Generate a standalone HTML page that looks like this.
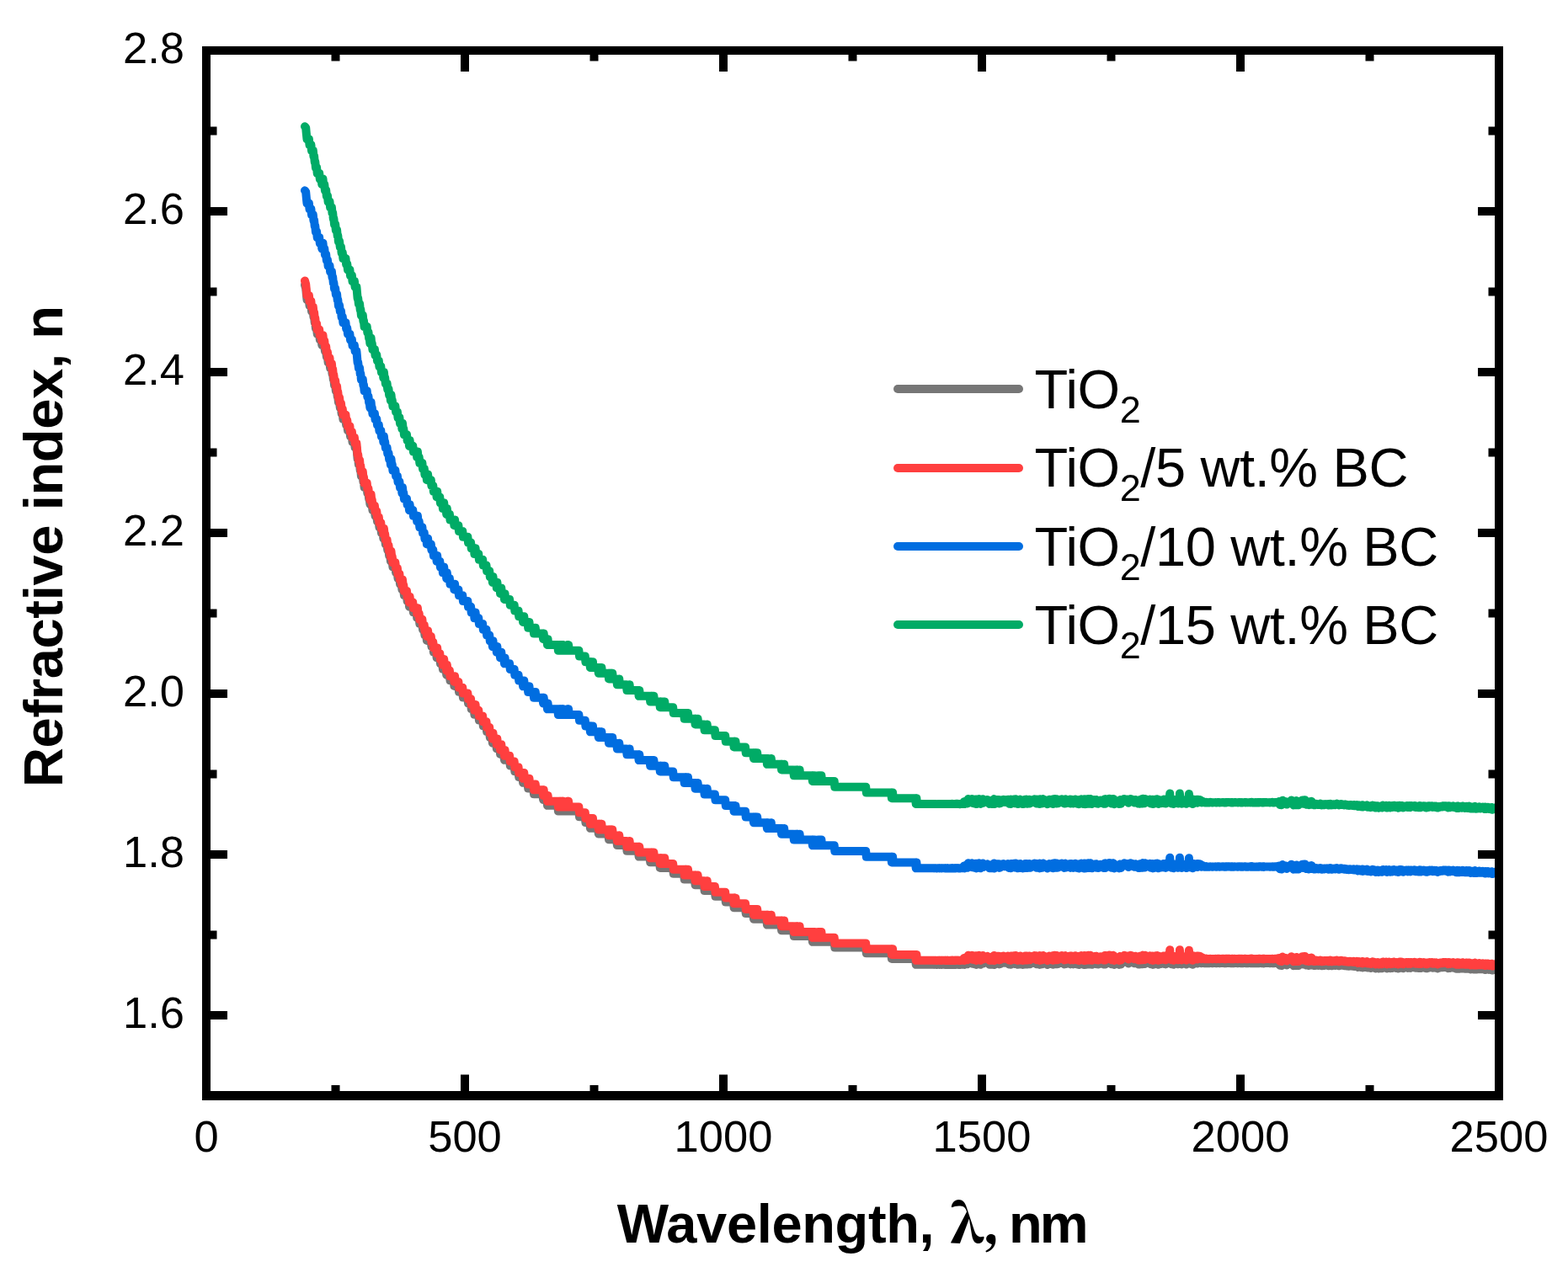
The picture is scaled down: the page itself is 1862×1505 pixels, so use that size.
<!DOCTYPE html>
<html><head><meta charset="utf-8"><style>
html,body{margin:0;padding:0;background:#fff;}
svg{display:block;}
svg text{fill:#000;}
</style></head><body>
<svg width="1862" height="1505" viewBox="0 0 1862 1505" style="font-family:'Liberation Sans',Arial,sans-serif">
<rect width="1862" height="1505" fill="#fff"/>
<g fill="none" stroke-width="10" stroke-linejoin="round" stroke-linecap="round">
<polyline stroke="#767676" points="362.0,338.50 363.2,342.60 363.8,349.30 364.5,356.00 366.9,356.00 367.5,362.80 369.4,362.80 370.0,369.60 371.8,369.60 372.4,376.30 373.1,376.30 373.7,383.00 374.3,383.00 374.9,389.80 376.1,389.80 376.7,396.60 379.2,396.60 379.8,403.30 381.6,403.30 382.3,410.00 382.9,403.30 383.5,403.30 384.1,410.00 385.3,410.00 385.9,416.80 387.2,416.80 387.8,423.60 389.0,423.60 389.6,430.30 391.5,430.30 392.1,437.00 393.9,437.00 394.5,443.80 395.2,443.80 395.8,450.60 396.4,450.60 397.0,457.30 398.2,457.30 398.8,464.00 400.1,464.00 400.7,470.80 401.3,470.80 401.9,477.60 403.1,477.60 403.8,484.30 405.0,484.30 405.6,491.00 406.8,491.00 407.4,497.80 410.5,497.80 411.1,504.60 412.3,504.60 413.0,511.30 415.4,511.30 416.0,518.00 417.9,518.00 418.5,524.80 420.9,524.80 421.6,531.60 423.4,531.60 424.0,538.30 424.6,545.00 425.2,545.00 425.9,551.80 427.1,551.80 427.7,558.60 428.3,558.60 428.9,565.30 430.8,565.30 431.4,572.00 432.0,572.00 432.6,578.80 435.7,578.80 436.3,585.60 437.5,585.60 438.1,592.30 438.7,592.30 439.4,599.00 440.0,592.30 440.6,592.30 441.2,599.00 441.8,599.00 442.4,605.80 444.9,605.80 445.5,612.60 447.3,612.60 448.0,619.30 449.8,619.30 450.4,626.00 452.3,626.00 452.9,632.80 454.7,632.80 455.3,639.60 455.9,632.80 456.6,639.60 457.2,639.60 457.8,646.30 459.6,646.30 460.2,653.00 461.5,653.00 462.1,659.80 463.3,659.80 463.9,666.60 464.5,659.80 465.2,666.60 465.8,666.60 466.4,673.30 469.4,673.30 470.1,680.00 471.9,680.00 472.5,686.80 474.4,686.80 475.0,693.60 476.8,693.60 477.4,700.30 478.0,693.60 478.7,700.30 479.3,700.30 479.9,707.00 483.0,707.00 483.6,713.80 485.4,713.80 486.0,720.60 486.6,713.80 487.3,720.60 490.3,720.60 490.9,727.30 494.6,727.30 495.2,734.00 495.9,727.30 496.5,734.00 497.7,734.00 498.3,740.80 501.4,740.80 502.0,747.60 503.8,747.60 504.4,754.30 506.3,754.30 506.9,761.00 507.5,754.30 508.1,754.30 508.7,761.00 511.8,761.00 512.4,767.80 514.3,767.80 514.9,774.60 518.0,774.60 518.6,781.30 519.2,774.60 519.8,781.30 522.3,781.30 522.9,788.00 525.3,788.00 525.9,794.80 526.6,794.80 527.2,788.00 527.8,794.80 529.6,794.80 530.2,801.60 530.8,794.80 531.5,801.60 533.9,801.60 534.5,808.30 538.8,808.30 539.4,815.00 540.1,808.30 540.7,815.00 544.4,815.00 545.0,821.80 549.3,821.80 549.9,828.60 555.4,828.60 556.0,835.30 559.1,835.30 559.7,842.00 562.8,842.00 563.4,848.80 564.0,848.80 564.6,842.00 565.2,848.80 568.3,848.80 568.9,855.60 573.2,855.60 573.8,862.30 577.5,862.30 578.1,869.00 581.2,869.00 581.8,875.80 584.3,875.80 584.9,882.60 585.5,875.80 586.1,882.60 589.2,882.60 589.8,889.30 590.4,882.60 591.0,889.30 593.5,889.30 594.1,896.00 594.7,889.30 595.3,889.30 595.9,896.00 598.4,896.00 599.0,902.80 599.6,896.00 600.2,902.80 605.1,902.80 605.8,909.60 610.7,909.60 611.3,916.30 615.6,916.30 616.2,923.00 620.5,923.00 621.1,929.80 621.7,923.00 622.3,923.00 622.9,929.80 626.6,929.80 627.2,936.60 627.9,936.60 628.5,929.80 629.1,936.60 633.4,936.60 634.0,943.30 634.6,943.30 635.2,936.60 635.8,936.60 636.5,943.30 644.4,943.30 645.1,950.00 645.7,943.30 646.3,950.00 649.4,950.00 650.0,956.80 650.6,950.00 651.2,956.80 662.2,956.80 662.9,963.60 663.5,963.60 664.1,956.80 664.7,956.80 665.3,963.60 665.9,956.80 666.5,956.80 667.2,963.60 667.8,956.80 668.4,963.60 669.0,956.80 669.6,963.60 673.3,963.60 673.9,956.80 674.5,963.60 675.1,956.80 675.8,963.60 687.4,963.60 688.0,970.30 694.8,970.30 695.4,977.00 700.3,977.00 700.9,983.80 701.5,977.00 702.2,983.80 702.8,977.00 704.0,977.00 704.6,983.80 710.1,983.80 710.8,990.60 711.4,983.80 712.0,990.60 712.6,983.80 713.2,983.80 713.8,990.60 714.4,983.80 715.0,990.60 722.4,990.60 723.0,997.30 723.6,990.60 724.3,997.30 724.9,990.60 725.5,997.30 726.1,990.60 726.7,997.30 727.3,990.60 727.9,997.30 732.2,997.30 732.9,1004.00 734.7,1004.00 735.3,997.30 735.9,1004.00 743.9,1004.00 744.5,1010.80 747.0,1010.80 747.6,1004.00 748.2,1010.80 758.0,1010.80 758.6,1017.60 759.3,1010.80 759.9,1017.60 771.5,1017.60 772.2,1024.30 772.8,1024.30 773.4,1017.60 774.0,1024.30 774.6,1017.60 775.2,1024.30 775.8,1024.30 776.4,1017.60 777.1,1024.30 783.2,1024.30 783.8,1031.00 784.4,1024.30 785.0,1031.00 785.7,1024.30 787.5,1024.30 788.1,1031.00 788.7,1031.00 789.3,1024.30 790.0,1031.00 799.2,1031.00 799.8,1037.80 812.1,1037.80 812.7,1044.60 813.3,1044.60 813.9,1037.80 814.5,1044.60 815.1,1037.80 815.7,1044.60 816.4,1044.60 817.0,1037.80 817.6,1044.60 825.0,1044.60 825.6,1051.30 826.2,1044.60 826.8,1051.30 828.0,1051.30 828.6,1044.60 829.3,1051.30 836.0,1051.30 836.6,1058.00 839.1,1058.00 839.7,1051.30 840.3,1058.00 848.9,1058.00 849.5,1064.80 861.2,1064.80 861.8,1071.60 871.0,1071.60 871.6,1078.30 872.2,1071.60 872.8,1078.30 873.5,1071.60 874.1,1078.30 885.1,1078.30 885.7,1085.00 894.3,1085.00 895.0,1091.80 895.6,1085.00 896.8,1085.00 897.4,1091.80 898.0,1085.00 899.2,1085.00 899.9,1091.80 910.3,1091.80 910.9,1098.60 911.5,1091.80 912.1,1091.80 912.8,1098.60 915.2,1098.60 915.8,1091.80 916.4,1098.60 927.5,1098.60 928.1,1105.30 928.7,1098.60 929.3,1105.30 930.6,1105.30 931.2,1098.60 931.8,1105.30 942.2,1105.30 942.8,1112.00 944.1,1112.00 944.7,1105.30 945.9,1105.30 946.5,1112.00 947.1,1105.30 947.8,1112.00 949.0,1112.00 949.6,1105.30 950.2,1112.00 964.3,1112.00 964.9,1118.80 965.6,1112.00 967.4,1112.00 968.0,1118.80 971.1,1118.80 971.7,1112.00 972.9,1112.00 973.5,1118.80 974.2,1118.80 974.8,1112.00 975.4,1112.00 976.0,1118.80 990.7,1118.80 991.3,1125.60 1028.2,1125.60 1028.8,1132.30 1058.3,1132.30 1058.9,1139.00 1059.5,1132.30 1060.1,1132.30 1060.7,1139.00 1087.1,1139.00 1087.7,1145.80 1088.4,1139.00 1089.0,1145.80 1108.6,1145.80 1109.2,1145.90 1109.9,1145.80 1111.1,1145.80 1111.7,1145.90 1112.3,1145.90 1112.9,1145.70 1113.5,1145.80 1114.1,1145.70 1114.8,1145.80 1115.4,1145.90 1116.0,1145.90 1116.6,1145.80 1117.2,1145.80 1117.8,1145.90 1118.4,1145.90 1119.1,1145.80 1121.5,1145.80 1122.1,1145.70 1122.7,1145.90 1123.4,1145.80 1124.0,1145.90 1124.6,1145.80 1125.2,1145.90 1125.8,1145.70 1126.4,1145.90 1127.0,1145.90 1127.7,1145.70 1128.3,1145.80 1128.9,1145.70 1129.5,1145.90 1130.1,1145.80 1130.7,1145.60 1131.3,1145.90 1132.0,1145.90 1132.6,1145.70 1133.2,1145.90 1133.8,1145.70 1134.4,1145.90 1135.0,1145.70 1135.6,1145.60 1136.3,1145.70 1136.9,1145.80 1137.5,1145.60 1138.1,1145.90 1138.7,1145.80 1139.3,1145.80 1139.9,1146.00 1140.6,1145.90 1141.2,1145.70 1141.8,1145.60 1142.4,1145.70 1143.0,1145.20 1143.6,1145.00 1144.2,1145.60 1144.8,1143.10 1145.5,1145.90 1146.1,1143.00 1146.7,1142.60 1147.3,1144.20 1147.9,1143.70 1148.5,1143.50 1149.1,1145.20 1149.8,1139.80 1150.4,1140.60 1151.0,1140.80 1151.6,1143.10 1152.2,1141.90 1152.8,1143.70 1153.4,1142.30 1154.1,1139.80 1154.7,1144.70 1155.3,1142.80 1155.9,1142.10 1156.5,1141.40 1157.1,1145.20 1157.7,1143.60 1158.4,1140.20 1159.0,1142.10 1159.6,1145.90 1160.2,1141.20 1160.8,1140.40 1161.4,1140.00 1162.0,1140.00 1162.7,1139.80 1163.3,1142.60 1163.9,1145.40 1164.5,1145.70 1165.1,1145.40 1165.7,1142.00 1166.3,1144.00 1167.0,1140.00 1167.6,1144.50 1168.2,1141.40 1168.8,1143.80 1169.4,1141.40 1170.0,1142.70 1170.6,1142.50 1171.3,1143.50 1171.9,1141.70 1172.5,1140.80 1173.1,1143.20 1173.7,1144.50 1174.3,1142.10 1174.9,1145.70 1175.5,1142.40 1176.2,1142.10 1176.8,1142.10 1177.4,1145.80 1178.0,1141.50 1178.6,1143.60 1179.2,1143.00 1179.8,1145.90 1180.5,1139.90 1181.1,1145.90 1181.7,1141.80 1182.3,1144.70 1182.9,1140.90 1183.5,1144.20 1184.1,1141.70 1184.8,1140.80 1185.4,1140.70 1186.0,1140.70 1186.6,1145.40 1187.2,1142.50 1187.8,1141.60 1188.4,1144.80 1189.1,1143.00 1189.7,1143.90 1190.3,1141.40 1190.9,1140.80 1191.5,1140.50 1192.1,1141.80 1192.7,1142.20 1193.4,1143.70 1194.0,1142.10 1194.6,1142.10 1195.2,1140.90 1195.8,1142.10 1196.4,1143.10 1197.0,1140.50 1197.7,1144.40 1198.3,1145.50 1198.9,1143.20 1199.5,1141.60 1200.1,1145.80 1200.7,1140.40 1201.3,1140.80 1202.0,1144.50 1202.6,1144.80 1203.2,1142.00 1203.8,1140.20 1204.4,1143.70 1205.0,1141.80 1205.6,1145.10 1206.2,1140.00 1206.9,1143.00 1207.5,1140.70 1208.1,1145.70 1208.7,1145.80 1209.3,1143.40 1209.9,1144.00 1210.5,1145.20 1211.2,1145.40 1211.8,1140.40 1212.4,1141.70 1213.0,1144.70 1213.6,1141.40 1214.2,1142.30 1214.8,1145.90 1215.5,1142.60 1216.1,1143.30 1216.7,1141.00 1217.3,1140.50 1217.9,1145.40 1218.5,1144.50 1219.1,1140.40 1219.8,1145.60 1220.4,1145.30 1221.0,1141.70 1221.6,1145.20 1222.2,1140.50 1222.8,1141.20 1223.4,1145.20 1224.1,1143.00 1224.7,1142.20 1225.3,1141.50 1225.9,1141.00 1226.5,1140.70 1227.1,1142.50 1227.7,1142.80 1228.4,1140.10 1229.0,1144.30 1229.6,1140.20 1230.2,1140.50 1230.8,1145.30 1231.4,1142.00 1232.0,1140.40 1232.7,1142.10 1233.3,1140.70 1233.9,1140.40 1234.5,1145.90 1235.1,1140.10 1235.7,1144.40 1236.3,1142.50 1236.9,1141.10 1237.6,1145.20 1238.2,1142.90 1238.8,1139.90 1239.4,1142.00 1240.0,1143.50 1240.6,1142.30 1241.2,1141.50 1241.9,1141.70 1242.5,1141.50 1243.1,1142.60 1243.7,1146.00 1244.3,1145.50 1244.9,1143.10 1245.5,1145.30 1246.2,1140.60 1246.8,1143.60 1247.4,1144.80 1248.0,1141.30 1248.6,1143.20 1249.2,1142.90 1249.8,1140.30 1250.5,1145.80 1251.1,1142.00 1251.7,1143.20 1252.3,1139.70 1252.9,1142.90 1253.5,1142.40 1254.1,1145.20 1254.8,1140.00 1255.4,1145.20 1256.0,1140.80 1256.6,1145.00 1257.2,1144.50 1257.8,1143.50 1258.4,1141.90 1259.1,1142.50 1259.7,1143.90 1260.3,1142.00 1260.9,1140.00 1261.5,1144.10 1262.1,1144.10 1262.7,1141.40 1263.4,1141.00 1264.0,1145.40 1264.6,1141.80 1265.2,1140.10 1265.8,1145.10 1266.4,1141.10 1267.0,1142.10 1267.6,1143.20 1268.3,1142.60 1268.9,1141.00 1269.5,1141.10 1270.1,1142.80 1270.7,1140.40 1271.3,1145.40 1271.9,1141.30 1272.6,1140.60 1273.2,1140.80 1273.8,1140.90 1274.4,1145.40 1275.0,1142.40 1275.6,1144.40 1276.2,1144.90 1276.9,1140.20 1277.5,1143.60 1278.1,1144.90 1278.7,1141.10 1279.3,1145.60 1279.9,1143.00 1280.5,1142.90 1281.2,1146.00 1281.8,1140.80 1282.4,1145.60 1283.0,1141.20 1283.6,1143.20 1284.2,1140.10 1284.8,1141.90 1285.5,1141.20 1286.1,1144.60 1286.7,1145.90 1287.3,1140.60 1287.9,1140.00 1288.5,1143.80 1289.1,1145.90 1289.8,1145.80 1290.4,1145.10 1291.0,1144.30 1291.6,1143.30 1292.2,1139.70 1292.8,1145.60 1293.4,1143.20 1294.1,1142.60 1294.7,1139.70 1295.3,1140.70 1295.9,1141.80 1296.5,1145.80 1297.1,1143.70 1297.7,1144.10 1298.3,1142.00 1299.0,1144.30 1299.6,1140.90 1300.2,1141.40 1300.8,1143.00 1301.4,1140.70 1302.0,1145.20 1302.6,1141.20 1303.3,1142.70 1303.9,1145.60 1304.5,1142.00 1305.1,1143.30 1305.7,1144.00 1306.3,1142.40 1306.9,1141.20 1307.6,1142.90 1308.2,1144.70 1308.8,1142.20 1309.4,1144.00 1310.0,1141.20 1310.6,1142.10 1311.2,1145.60 1311.9,1140.00 1312.5,1145.50 1313.1,1139.90 1313.7,1144.80 1314.3,1142.00 1314.9,1144.10 1315.5,1141.10 1316.2,1140.70 1316.8,1140.20 1317.4,1139.60 1318.0,1142.00 1318.6,1139.90 1319.2,1141.40 1319.8,1145.20 1320.5,1144.10 1321.1,1142.30 1321.7,1139.70 1322.3,1139.90 1322.9,1146.00 1323.5,1142.40 1324.1,1143.40 1324.8,1144.30 1325.4,1143.50 1326.0,1144.40 1326.6,1143.20 1327.2,1142.80 1327.8,1142.50 1328.4,1145.30 1329.0,1145.90 1329.7,1142.00 1330.3,1140.90 1330.9,1145.50 1331.5,1141.40 1332.1,1144.20 1332.7,1141.10 1333.3,1143.40 1334.0,1141.60 1334.6,1139.90 1335.2,1139.70 1335.8,1141.50 1336.4,1142.60 1337.0,1142.40 1337.6,1142.40 1338.3,1142.80 1338.9,1140.40 1339.5,1143.80 1340.1,1144.50 1340.7,1142.40 1341.3,1142.60 1341.9,1140.40 1342.6,1139.80 1343.2,1141.20 1343.8,1142.40 1344.4,1140.30 1345.0,1141.90 1345.6,1142.60 1346.2,1143.00 1346.9,1144.30 1347.5,1143.00 1348.1,1140.70 1348.7,1141.60 1349.3,1142.40 1349.9,1143.10 1350.5,1142.30 1351.2,1142.10 1351.8,1145.40 1352.4,1143.90 1353.0,1145.50 1353.6,1140.70 1354.2,1143.90 1354.8,1142.70 1355.5,1141.60 1356.1,1139.90 1356.7,1145.30 1357.3,1139.60 1357.9,1144.90 1358.5,1142.00 1359.1,1145.10 1359.7,1139.80 1360.4,1139.90 1361.0,1142.20 1361.6,1143.50 1362.2,1143.80 1362.8,1141.40 1363.4,1143.70 1364.0,1142.20 1364.7,1140.70 1365.3,1140.40 1365.9,1141.20 1366.5,1145.30 1367.1,1141.40 1367.7,1143.10 1368.3,1140.50 1369.0,1145.90 1369.6,1145.30 1370.2,1140.70 1370.8,1141.00 1371.4,1145.20 1372.0,1141.50 1372.6,1140.20 1373.3,1143.40 1373.9,1140.50 1374.5,1140.10 1375.1,1143.70 1375.7,1145.80 1376.3,1140.80 1376.9,1145.10 1377.6,1143.60 1378.2,1145.10 1378.8,1141.70 1379.4,1141.80 1380.0,1143.30 1380.6,1141.00 1381.2,1141.50 1381.9,1140.40 1382.5,1145.00 1383.1,1142.60 1383.7,1140.50 1384.3,1145.40 1384.9,1141.00 1385.5,1139.90 1386.2,1142.70 1386.8,1143.80 1387.4,1143.10 1388.0,1143.90 1388.6,1142.30 1389.2,1133.30 1389.8,1143.50 1390.4,1140.90 1391.1,1145.30 1391.7,1140.10 1392.3,1141.90 1392.9,1143.50 1393.5,1145.80 1394.1,1141.90 1394.7,1140.90 1395.4,1143.80 1396.0,1144.80 1396.6,1141.60 1397.2,1142.90 1397.8,1144.20 1398.4,1143.20 1399.0,1145.30 1399.7,1140.80 1400.3,1145.00 1400.9,1133.30 1401.5,1141.70 1402.1,1145.10 1402.7,1143.00 1403.3,1145.50 1404.0,1143.60 1404.6,1144.70 1405.2,1141.10 1405.8,1142.70 1406.4,1142.70 1407.0,1141.50 1407.6,1142.60 1408.3,1143.80 1408.9,1145.60 1409.5,1143.00 1410.1,1140.20 1410.7,1142.10 1411.3,1141.60 1411.9,1133.80 1412.6,1142.40 1413.2,1141.60 1413.8,1144.60 1414.4,1142.40 1415.0,1145.20 1415.6,1141.50 1416.2,1145.80 1416.9,1140.50 1417.5,1143.50 1418.1,1140.60 1418.7,1141.20 1419.3,1144.40 1419.9,1143.00 1420.5,1142.00 1421.1,1140.50 1421.8,1144.50 1422.4,1143.40 1423.0,1140.60 1423.6,1142.00 1424.2,1142.60 1424.8,1140.70 1425.4,1141.20 1426.1,1143.40 1426.7,1144.20 1427.3,1142.90 1427.9,1142.50 1428.5,1143.60 1429.1,1144.10 1429.7,1144.10 1430.4,1144.20 1431.0,1144.20 1431.6,1144.10 1432.2,1143.70 1432.8,1144.10 1433.4,1144.30 1434.0,1144.00 1434.7,1143.90 1435.3,1144.20 1435.9,1144.20 1436.5,1144.00 1437.1,1143.70 1437.7,1144.00 1438.3,1143.90 1439.0,1144.10 1439.6,1144.30 1440.2,1144.00 1440.8,1144.00 1441.4,1144.10 1442.0,1144.00 1442.6,1144.10 1443.3,1143.80 1443.9,1144.00 1444.5,1144.20 1445.1,1144.00 1445.7,1143.90 1446.3,1143.80 1446.9,1143.80 1447.6,1143.70 1448.2,1144.20 1448.8,1144.00 1449.4,1144.10 1450.6,1144.10 1451.2,1143.80 1451.8,1144.00 1452.5,1143.90 1453.1,1143.70 1453.7,1144.00 1454.3,1144.30 1454.9,1144.30 1455.5,1143.80 1456.1,1144.20 1456.8,1143.70 1457.4,1143.80 1458.0,1143.80 1458.6,1143.90 1459.2,1143.70 1459.8,1143.80 1460.4,1143.70 1461.1,1144.10 1461.7,1144.20 1462.3,1144.00 1462.9,1143.70 1463.5,1143.80 1464.1,1143.80 1464.7,1144.30 1465.4,1144.00 1466.0,1143.80 1466.6,1144.00 1467.2,1143.90 1467.8,1144.10 1468.4,1144.00 1469.0,1144.10 1469.7,1144.20 1470.3,1144.00 1470.9,1143.80 1471.5,1144.00 1472.1,1144.00 1472.7,1143.80 1473.3,1144.20 1474.0,1144.10 1474.6,1143.80 1475.2,1144.20 1475.8,1144.20 1476.4,1144.10 1477.0,1144.00 1477.6,1144.00 1478.3,1143.80 1478.9,1143.70 1479.5,1144.20 1480.1,1143.90 1480.7,1144.00 1481.3,1144.10 1481.9,1144.20 1482.5,1144.10 1483.2,1144.00 1483.8,1144.00 1484.4,1143.80 1485.0,1144.20 1485.6,1144.10 1486.2,1143.70 1486.8,1144.20 1487.5,1144.30 1488.1,1144.30 1488.7,1144.10 1489.3,1144.10 1489.9,1144.30 1490.5,1144.20 1491.1,1143.90 1491.8,1144.20 1492.4,1144.30 1493.0,1144.00 1493.6,1143.90 1494.2,1144.00 1494.8,1143.80 1495.4,1144.20 1496.1,1143.80 1496.7,1144.10 1497.3,1143.90 1497.9,1143.90 1498.5,1144.20 1499.1,1144.30 1499.7,1143.90 1500.4,1144.30 1501.0,1143.80 1501.6,1143.90 1502.2,1143.90 1502.8,1144.10 1503.4,1143.90 1504.0,1143.90 1504.7,1144.10 1505.3,1144.00 1505.9,1144.10 1506.5,1144.00 1507.1,1143.90 1507.7,1144.00 1508.3,1144.20 1509.0,1144.10 1509.6,1143.90 1510.2,1144.00 1510.8,1143.70 1511.4,1144.20 1512.0,1144.30 1512.6,1144.20 1513.2,1144.20 1513.9,1143.80 1514.5,1143.90 1515.1,1143.80 1515.7,1143.70 1516.3,1143.90 1516.9,1144.00 1517.5,1144.50 1518.2,1145.10 1518.8,1142.90 1519.4,1146.00 1520.0,1146.70 1520.6,1144.70 1521.2,1145.90 1521.8,1147.00 1522.5,1144.10 1523.1,1141.50 1523.7,1142.00 1524.3,1144.60 1524.9,1145.20 1525.5,1143.30 1526.1,1142.70 1526.8,1145.80 1527.4,1145.40 1528.0,1146.40 1528.6,1144.90 1529.2,1145.10 1529.8,1143.90 1530.4,1143.30 1531.1,1144.80 1531.7,1144.70 1532.3,1142.20 1532.9,1143.10 1533.5,1141.30 1534.1,1145.10 1534.7,1141.70 1535.4,1144.00 1536.0,1147.20 1536.6,1146.70 1537.2,1145.60 1537.8,1146.10 1538.4,1145.30 1539.0,1147.10 1539.7,1141.90 1540.3,1144.90 1540.9,1143.30 1541.5,1143.10 1542.1,1147.00 1542.7,1146.10 1543.3,1142.70 1543.9,1144.40 1544.6,1145.30 1545.2,1144.50 1545.8,1143.20 1546.4,1141.20 1547.0,1145.40 1547.6,1145.50 1548.2,1143.20 1548.9,1141.10 1549.5,1141.10 1550.1,1145.40 1550.7,1145.50 1551.3,1146.60 1551.9,1143.20 1552.5,1144.60 1553.2,1145.10 1553.8,1145.60 1554.4,1147.00 1555.0,1143.10 1555.6,1144.80 1556.2,1146.40 1556.8,1146.50 1557.5,1142.60 1558.1,1143.60 1558.7,1144.80 1559.3,1145.10 1559.9,1145.80 1560.5,1147.10 1561.1,1146.60 1561.8,1146.90 1562.4,1146.50 1563.0,1145.60 1563.6,1146.30 1564.2,1145.90 1564.8,1146.00 1565.4,1146.90 1566.1,1146.30 1566.7,1146.60 1567.3,1145.90 1567.9,1145.50 1568.5,1145.90 1569.1,1145.70 1569.7,1147.20 1570.4,1147.10 1571.0,1146.40 1571.6,1147.00 1572.2,1146.00 1572.8,1147.00 1573.4,1146.00 1574.0,1146.50 1574.6,1146.10 1575.3,1146.00 1575.9,1146.60 1576.5,1146.00 1577.1,1146.70 1577.7,1147.30 1578.3,1147.10 1578.9,1145.70 1579.6,1145.50 1580.2,1146.40 1580.8,1147.10 1581.4,1146.80 1582.0,1147.10 1582.6,1146.70 1583.2,1146.20 1583.9,1146.10 1584.5,1146.80 1585.1,1146.90 1585.7,1147.00 1586.3,1145.90 1586.9,1146.10 1587.5,1145.50 1588.2,1145.90 1588.8,1146.30 1589.4,1146.90 1590.0,1147.20 1590.6,1146.90 1591.2,1146.60 1591.8,1146.50 1592.5,1145.80 1593.1,1146.80 1593.7,1146.10 1594.3,1146.80 1594.9,1146.70 1595.5,1146.70 1596.1,1147.10 1596.8,1146.30 1597.4,1146.90 1598.0,1146.50 1598.6,1146.90 1599.2,1147.10 1599.8,1147.50 1600.4,1147.00 1601.1,1147.40 1601.7,1147.70 1602.3,1147.00 1602.9,1146.80 1603.5,1147.60 1604.1,1146.90 1604.7,1146.90 1605.3,1147.20 1606.0,1147.70 1606.6,1147.60 1607.2,1147.20 1607.8,1146.80 1608.4,1148.10 1609.0,1147.30 1609.6,1147.20 1610.3,1147.90 1610.9,1147.70 1611.5,1146.90 1612.1,1147.20 1612.7,1148.90 1613.3,1148.60 1613.9,1147.10 1614.6,1147.40 1615.2,1147.50 1615.8,1148.10 1616.4,1149.10 1617.0,1148.20 1617.6,1147.00 1618.2,1149.40 1618.9,1147.20 1619.5,1148.10 1620.1,1148.90 1620.7,1148.70 1621.3,1147.80 1621.9,1148.60 1622.5,1148.70 1623.2,1147.10 1623.8,1149.60 1624.4,1148.10 1625.0,1148.30 1625.6,1148.40 1626.2,1149.50 1626.8,1148.20 1627.5,1150.00 1628.1,1148.60 1628.7,1149.40 1629.3,1149.50 1629.9,1147.30 1630.5,1148.90 1631.1,1147.60 1631.8,1148.20 1632.4,1148.70 1633.0,1148.10 1633.6,1150.40 1634.2,1148.20 1634.8,1148.30 1635.4,1149.00 1636.0,1148.00 1636.7,1150.40 1637.3,1150.50 1637.9,1149.30 1638.5,1150.10 1639.1,1148.60 1639.7,1148.70 1640.3,1148.50 1641.0,1150.30 1641.6,1150.00 1642.2,1147.40 1642.8,1147.90 1643.4,1148.90 1644.0,1149.10 1644.6,1148.90 1645.3,1148.50 1645.9,1147.60 1646.5,1148.00 1647.1,1150.40 1647.7,1149.50 1648.3,1148.60 1648.9,1148.30 1649.6,1147.60 1650.2,1147.90 1650.8,1150.20 1651.4,1148.70 1652.0,1149.30 1652.6,1148.10 1653.2,1149.90 1653.9,1147.90 1654.5,1148.20 1655.1,1147.50 1655.7,1147.60 1656.3,1148.10 1656.9,1149.30 1657.5,1149.90 1658.2,1148.00 1658.8,1148.20 1659.4,1148.00 1660.0,1149.20 1660.6,1150.50 1661.2,1149.10 1661.8,1147.50 1662.5,1149.70 1663.1,1148.20 1663.7,1147.70 1664.3,1149.80 1664.9,1147.80 1665.5,1147.90 1666.1,1150.30 1666.7,1150.00 1667.4,1148.60 1668.0,1148.70 1668.6,1148.20 1669.2,1149.20 1669.8,1148.70 1670.4,1147.90 1671.0,1148.30 1671.7,1149.90 1672.3,1148.10 1672.9,1148.10 1673.5,1147.90 1674.1,1149.60 1674.7,1149.90 1675.3,1149.10 1676.0,1147.90 1676.6,1148.30 1677.2,1148.40 1677.8,1148.30 1678.4,1148.60 1679.0,1148.50 1679.6,1149.50 1680.3,1147.90 1680.9,1148.10 1681.5,1149.80 1682.1,1148.20 1682.7,1149.10 1683.9,1149.10 1684.6,1150.10 1685.2,1148.50 1685.8,1147.80 1686.4,1148.00 1687.0,1150.10 1687.6,1149.00 1688.2,1148.40 1688.9,1148.80 1689.5,1148.30 1690.1,1149.40 1690.7,1148.10 1691.3,1149.30 1691.9,1149.60 1692.5,1148.40 1693.2,1150.20 1693.8,1148.60 1694.4,1150.20 1695.0,1148.60 1695.6,1148.90 1696.2,1149.70 1696.8,1149.50 1697.4,1148.00 1698.1,1148.60 1698.7,1148.90 1699.3,1148.70 1699.9,1149.00 1700.5,1148.10 1701.1,1149.70 1701.7,1148.40 1702.4,1149.10 1703.0,1149.60 1703.6,1148.30 1704.2,1149.50 1704.8,1149.70 1705.4,1148.30 1706.0,1149.40 1706.7,1149.30 1707.3,1150.40 1707.9,1150.00 1708.5,1148.90 1709.1,1149.70 1709.7,1149.00 1710.3,1148.50 1711.0,1148.60 1711.6,1148.50 1712.2,1149.20 1712.8,1149.30 1713.4,1148.10 1714.0,1148.00 1714.6,1148.80 1715.3,1149.10 1715.9,1148.90 1716.5,1148.10 1717.1,1148.10 1717.7,1149.10 1718.3,1148.70 1718.9,1149.00 1719.6,1150.20 1720.2,1148.10 1720.8,1149.90 1721.4,1150.10 1722.0,1148.30 1722.6,1149.60 1723.2,1148.50 1723.9,1148.60 1724.5,1148.80 1725.1,1149.60 1725.7,1148.10 1726.3,1149.30 1726.9,1149.00 1727.5,1150.10 1728.1,1150.10 1728.8,1150.30 1729.4,1150.80 1730.0,1149.50 1730.6,1148.20 1731.2,1150.80 1731.8,1148.40 1732.4,1150.80 1733.1,1150.40 1733.7,1148.70 1734.3,1149.30 1734.9,1149.80 1735.5,1149.40 1736.1,1150.50 1736.7,1148.30 1737.4,1149.80 1738.0,1148.60 1738.6,1149.50 1739.2,1150.50 1739.8,1150.70 1740.4,1148.70 1741.0,1150.40 1741.7,1148.50 1742.3,1150.80 1742.9,1149.40 1743.5,1148.90 1744.1,1150.10 1744.7,1148.40 1745.3,1150.90 1746.0,1151.20 1746.6,1151.40 1747.2,1149.60 1747.8,1149.20 1748.4,1151.30 1749.0,1151.30 1749.6,1151.40 1750.3,1151.40 1750.9,1150.60 1751.5,1148.60 1752.1,1150.90 1752.7,1151.60 1753.3,1149.30 1753.9,1149.50 1754.6,1149.60 1755.2,1151.20 1755.8,1150.70 1756.4,1149.00 1757.0,1150.50 1757.6,1149.90 1758.2,1151.30 1758.8,1150.80 1759.5,1150.00 1760.1,1149.50 1760.7,1149.20 1761.3,1151.30 1761.9,1151.00 1762.5,1150.00 1763.1,1151.90 1763.8,1149.40 1764.4,1151.90 1765.0,1149.80 1765.6,1151.50 1766.2,1150.10 1766.8,1149.60 1767.4,1150.30 1768.1,1151.80 1768.7,1151.60 1769.3,1151.70 1769.9,1150.30 1770.5,1152.10 1771.1,1149.70 1771.7,1150.10 1772.4,1152.60 1773.0,1151.30 1773.6,1152.00 1774.2,1151.60 1774.8,1150.40 1775.4,1150.60 1776.0,1152.00 1776.7,1151.20 1777.3,1152.20 1777.9,1152.60 1778.5,1151.30 1779.1,1152.60 1779.7,1151.70"/>
<polyline stroke="#FF3F3F" points="362.0,333.50 363.2,337.60 363.8,344.30 364.5,351.00 366.9,351.00 367.5,357.80 369.4,357.80 370.0,364.60 371.8,364.60 372.4,371.30 373.1,371.30 373.7,378.00 374.3,378.00 374.9,384.80 376.1,384.80 376.7,391.60 379.2,391.60 379.8,398.30 381.6,398.30 382.3,405.00 382.9,398.30 383.5,398.30 384.1,405.00 385.3,405.00 385.9,411.80 387.2,411.80 387.8,418.60 389.0,418.60 389.6,425.30 391.5,425.30 392.1,432.00 393.9,432.00 394.5,438.80 395.2,438.80 395.8,445.60 396.4,445.60 397.0,452.30 398.2,452.30 398.8,459.00 400.1,459.00 400.7,465.80 401.3,465.80 401.9,472.60 403.1,472.60 403.8,479.30 405.0,479.30 405.6,486.00 406.8,486.00 407.4,492.80 410.5,492.80 411.1,499.60 412.3,499.60 413.0,506.30 415.4,506.30 416.0,513.00 417.9,513.00 418.5,519.80 420.9,519.80 421.6,526.60 423.4,526.60 424.0,533.30 424.6,540.00 425.2,540.00 425.9,546.80 427.1,546.80 427.7,553.60 428.3,553.60 428.9,560.30 430.8,560.30 431.4,567.00 432.0,567.00 432.6,573.80 435.7,573.80 436.3,580.60 437.5,580.60 438.1,587.30 438.7,587.30 439.4,594.00 440.0,587.30 440.6,587.30 441.2,594.00 441.8,594.00 442.4,600.80 444.9,600.80 445.5,607.60 447.3,607.60 448.0,614.30 449.8,614.30 450.4,621.00 452.3,621.00 452.9,627.80 454.7,627.80 455.3,634.60 455.9,627.80 456.6,634.60 457.2,634.60 457.8,641.30 459.6,641.30 460.2,648.00 461.5,648.00 462.1,654.80 463.3,654.80 463.9,661.60 464.5,654.80 465.2,661.60 465.8,661.60 466.4,668.30 469.4,668.30 470.1,675.00 471.9,675.00 472.5,681.80 474.4,681.80 475.0,688.60 476.8,688.60 477.4,695.30 478.0,688.60 478.7,695.30 479.3,695.30 479.9,702.00 483.0,702.00 483.6,708.80 485.4,708.80 486.0,715.60 486.6,708.80 487.3,715.60 490.3,715.60 490.9,722.30 494.6,722.30 495.2,729.00 495.9,722.30 496.5,729.00 497.7,729.00 498.3,735.80 501.4,735.80 502.0,742.60 503.8,742.60 504.4,749.30 506.3,749.30 506.9,756.00 507.5,749.30 508.1,749.30 508.7,756.00 511.8,756.00 512.4,762.80 514.3,762.80 514.9,769.60 518.0,769.60 518.6,776.30 519.2,769.60 519.8,776.30 522.3,776.30 522.9,783.00 525.3,783.00 525.9,789.80 526.6,789.80 527.2,783.00 527.8,789.80 529.6,789.80 530.2,796.60 530.8,789.80 531.5,796.60 533.9,796.60 534.5,803.30 538.8,803.30 539.4,810.00 540.1,803.30 540.7,810.00 544.4,810.00 545.0,816.80 549.3,816.80 549.9,823.60 555.4,823.60 556.0,830.30 559.1,830.30 559.7,837.00 562.8,837.00 563.4,843.80 564.0,843.80 564.6,837.00 565.2,843.80 568.3,843.80 568.9,850.60 573.2,850.60 573.8,857.30 577.5,857.30 578.1,864.00 581.2,864.00 581.8,870.80 584.3,870.80 584.9,877.60 585.5,870.80 586.1,877.60 589.2,877.60 589.8,884.30 590.4,877.60 591.0,884.30 593.5,884.30 594.1,891.00 594.7,884.30 595.3,884.30 595.9,891.00 598.4,891.00 599.0,897.80 599.6,891.00 600.2,897.80 605.1,897.80 605.8,904.60 610.7,904.60 611.3,911.30 615.6,911.30 616.2,918.00 620.5,918.00 621.1,924.80 621.7,918.00 622.3,918.00 622.9,924.80 626.6,924.80 627.2,931.60 627.9,931.60 628.5,924.80 629.1,931.60 633.4,931.60 634.0,938.30 634.6,938.30 635.2,931.60 635.8,931.60 636.5,938.30 644.4,938.30 645.1,945.00 645.7,938.30 646.3,945.00 649.4,945.00 650.0,951.80 650.6,945.00 651.2,951.80 662.2,951.80 662.9,958.60 663.5,958.60 664.1,951.80 664.7,951.80 665.3,958.60 665.9,951.80 666.5,951.80 667.2,958.60 667.8,951.80 668.4,958.60 669.0,951.80 669.6,958.60 673.3,958.60 673.9,951.80 674.5,958.60 675.1,951.80 675.8,958.60 687.4,958.60 688.0,965.30 694.8,965.30 695.4,972.00 700.3,972.00 700.9,978.80 701.5,972.00 702.2,978.80 702.8,972.00 704.0,972.00 704.6,978.80 710.1,978.80 710.8,985.60 711.4,978.80 712.0,985.60 712.6,978.80 713.2,978.80 713.8,985.60 714.4,978.80 715.0,985.60 722.4,985.60 723.0,992.30 723.6,985.60 724.3,992.30 724.9,985.60 725.5,992.30 726.1,985.60 726.7,992.30 727.3,985.60 727.9,992.30 732.2,992.30 732.9,999.00 734.7,999.00 735.3,992.30 735.9,999.00 743.9,999.00 744.5,1005.80 747.0,1005.80 747.6,999.00 748.2,1005.80 758.0,1005.80 758.6,1012.60 759.3,1005.80 759.9,1012.60 771.5,1012.60 772.2,1019.30 772.8,1019.30 773.4,1012.60 774.0,1019.30 774.6,1012.60 775.2,1019.30 775.8,1019.30 776.4,1012.60 777.1,1019.30 783.2,1019.30 783.8,1026.00 784.4,1019.30 785.0,1026.00 785.7,1019.30 787.5,1019.30 788.1,1026.00 788.7,1026.00 789.3,1019.30 790.0,1026.00 799.2,1026.00 799.8,1032.80 812.1,1032.80 812.7,1039.60 813.3,1039.60 813.9,1032.80 814.5,1039.60 815.1,1032.80 815.7,1039.60 816.4,1039.60 817.0,1032.80 817.6,1039.60 825.0,1039.60 825.6,1046.30 826.2,1039.60 826.8,1046.30 828.0,1046.30 828.6,1039.60 829.3,1046.30 836.0,1046.30 836.6,1053.00 839.1,1053.00 839.7,1046.30 840.3,1053.00 848.9,1053.00 849.5,1059.80 861.2,1059.80 861.8,1066.60 871.0,1066.60 871.6,1073.30 872.2,1066.60 872.8,1073.30 873.5,1066.60 874.1,1073.30 885.1,1073.30 885.7,1080.00 894.3,1080.00 895.0,1086.80 895.6,1080.00 896.8,1080.00 897.4,1086.80 898.0,1080.00 899.2,1080.00 899.9,1086.80 910.3,1086.80 910.9,1093.60 911.5,1086.80 912.1,1086.80 912.8,1093.60 915.2,1093.60 915.8,1086.80 916.4,1093.60 927.5,1093.60 928.1,1100.30 928.7,1093.60 929.3,1100.30 930.6,1100.30 931.2,1093.60 931.8,1100.30 942.2,1100.30 942.8,1107.00 944.1,1107.00 944.7,1100.30 945.9,1100.30 946.5,1107.00 947.1,1100.30 947.8,1107.00 949.0,1107.00 949.6,1100.30 950.2,1107.00 964.3,1107.00 964.9,1113.80 965.6,1107.00 967.4,1107.00 968.0,1113.80 971.1,1113.80 971.7,1107.00 972.9,1107.00 973.5,1113.80 974.2,1113.80 974.8,1107.00 975.4,1107.00 976.0,1113.80 990.7,1113.80 991.3,1120.60 1028.2,1120.60 1028.8,1127.30 1058.3,1127.30 1058.9,1134.00 1059.5,1127.30 1060.1,1127.30 1060.7,1134.00 1087.1,1134.00 1087.7,1140.80 1088.4,1134.00 1089.0,1140.80 1108.6,1140.80 1109.2,1140.90 1109.9,1140.80 1111.1,1140.80 1111.7,1140.90 1112.3,1140.90 1112.9,1140.70 1113.5,1140.80 1114.1,1140.70 1114.8,1140.80 1115.4,1140.90 1116.0,1140.90 1116.6,1140.80 1117.2,1140.80 1117.8,1140.90 1118.4,1140.90 1119.1,1140.80 1121.5,1140.80 1122.1,1140.70 1122.7,1140.90 1123.4,1140.80 1124.0,1140.90 1124.6,1140.80 1125.2,1140.90 1125.8,1140.70 1126.4,1140.90 1127.0,1140.90 1127.7,1140.70 1128.3,1140.80 1128.9,1140.70 1129.5,1140.90 1130.1,1140.80 1130.7,1140.60 1131.3,1140.90 1132.0,1140.90 1132.6,1140.70 1133.2,1140.90 1133.8,1140.70 1134.4,1140.90 1135.0,1140.70 1135.6,1140.60 1136.3,1140.70 1136.9,1140.80 1137.5,1140.60 1138.1,1140.90 1138.7,1140.80 1139.3,1140.80 1139.9,1141.00 1140.6,1140.90 1141.2,1140.70 1141.8,1140.60 1142.4,1140.70 1143.0,1140.20 1143.6,1140.00 1144.2,1140.60 1144.8,1138.10 1145.5,1140.90 1146.1,1138.00 1146.7,1137.60 1147.3,1139.20 1147.9,1138.70 1148.5,1138.50 1149.1,1140.20 1149.8,1134.80 1150.4,1135.60 1151.0,1135.80 1151.6,1138.10 1152.2,1136.90 1152.8,1138.70 1153.4,1137.30 1154.1,1134.80 1154.7,1139.70 1155.3,1137.80 1155.9,1137.10 1156.5,1136.40 1157.1,1140.20 1157.7,1138.60 1158.4,1135.20 1159.0,1137.10 1159.6,1140.90 1160.2,1136.20 1160.8,1135.40 1161.4,1135.00 1162.0,1135.00 1162.7,1134.80 1163.3,1137.60 1163.9,1140.40 1164.5,1140.70 1165.1,1140.40 1165.7,1137.00 1166.3,1139.00 1167.0,1135.00 1167.6,1139.50 1168.2,1136.40 1168.8,1138.80 1169.4,1136.40 1170.0,1137.70 1170.6,1137.50 1171.3,1138.50 1171.9,1136.70 1172.5,1135.80 1173.1,1138.20 1173.7,1139.50 1174.3,1137.10 1174.9,1140.70 1175.5,1137.40 1176.2,1137.10 1176.8,1137.10 1177.4,1140.80 1178.0,1136.50 1178.6,1138.60 1179.2,1138.00 1179.8,1140.90 1180.5,1134.90 1181.1,1140.90 1181.7,1136.80 1182.3,1139.70 1182.9,1135.90 1183.5,1139.20 1184.1,1136.70 1184.8,1135.80 1185.4,1135.70 1186.0,1135.70 1186.6,1140.40 1187.2,1137.50 1187.8,1136.60 1188.4,1139.80 1189.1,1138.00 1189.7,1138.90 1190.3,1136.40 1190.9,1135.80 1191.5,1135.50 1192.1,1136.80 1192.7,1137.20 1193.4,1138.70 1194.0,1137.10 1194.6,1137.10 1195.2,1135.90 1195.8,1137.10 1196.4,1138.10 1197.0,1135.50 1197.7,1139.40 1198.3,1140.50 1198.9,1138.20 1199.5,1136.60 1200.1,1140.80 1200.7,1135.40 1201.3,1135.80 1202.0,1139.50 1202.6,1139.80 1203.2,1137.00 1203.8,1135.20 1204.4,1138.70 1205.0,1136.80 1205.6,1140.10 1206.2,1135.00 1206.9,1138.00 1207.5,1135.70 1208.1,1140.70 1208.7,1140.80 1209.3,1138.40 1209.9,1139.00 1210.5,1140.20 1211.2,1140.40 1211.8,1135.40 1212.4,1136.70 1213.0,1139.70 1213.6,1136.40 1214.2,1137.30 1214.8,1140.90 1215.5,1137.60 1216.1,1138.30 1216.7,1136.00 1217.3,1135.50 1217.9,1140.40 1218.5,1139.50 1219.1,1135.40 1219.8,1140.60 1220.4,1140.30 1221.0,1136.70 1221.6,1140.20 1222.2,1135.50 1222.8,1136.20 1223.4,1140.20 1224.1,1138.00 1224.7,1137.20 1225.3,1136.50 1225.9,1136.00 1226.5,1135.70 1227.1,1137.50 1227.7,1137.80 1228.4,1135.10 1229.0,1139.30 1229.6,1135.20 1230.2,1135.50 1230.8,1140.30 1231.4,1137.00 1232.0,1135.40 1232.7,1137.10 1233.3,1135.70 1233.9,1135.40 1234.5,1140.90 1235.1,1135.10 1235.7,1139.40 1236.3,1137.50 1236.9,1136.10 1237.6,1140.20 1238.2,1137.90 1238.8,1134.90 1239.4,1137.00 1240.0,1138.50 1240.6,1137.30 1241.2,1136.50 1241.9,1136.70 1242.5,1136.50 1243.1,1137.60 1243.7,1141.00 1244.3,1140.50 1244.9,1138.10 1245.5,1140.30 1246.2,1135.60 1246.8,1138.60 1247.4,1139.80 1248.0,1136.30 1248.6,1138.20 1249.2,1137.90 1249.8,1135.30 1250.5,1140.80 1251.1,1137.00 1251.7,1138.20 1252.3,1134.70 1252.9,1137.90 1253.5,1137.40 1254.1,1140.20 1254.8,1135.00 1255.4,1140.20 1256.0,1135.80 1256.6,1140.00 1257.2,1139.50 1257.8,1138.50 1258.4,1136.90 1259.1,1137.50 1259.7,1138.90 1260.3,1137.00 1260.9,1135.00 1261.5,1139.10 1262.1,1139.10 1262.7,1136.40 1263.4,1136.00 1264.0,1140.40 1264.6,1136.80 1265.2,1135.10 1265.8,1140.10 1266.4,1136.10 1267.0,1137.10 1267.6,1138.20 1268.3,1137.60 1268.9,1136.00 1269.5,1136.10 1270.1,1137.80 1270.7,1135.40 1271.3,1140.40 1271.9,1136.30 1272.6,1135.60 1273.2,1135.80 1273.8,1135.90 1274.4,1140.40 1275.0,1137.40 1275.6,1139.40 1276.2,1139.90 1276.9,1135.20 1277.5,1138.60 1278.1,1139.90 1278.7,1136.10 1279.3,1140.60 1279.9,1138.00 1280.5,1137.90 1281.2,1141.00 1281.8,1135.80 1282.4,1140.60 1283.0,1136.20 1283.6,1138.20 1284.2,1135.10 1284.8,1136.90 1285.5,1136.20 1286.1,1139.60 1286.7,1140.90 1287.3,1135.60 1287.9,1135.00 1288.5,1138.80 1289.1,1140.90 1289.8,1140.80 1290.4,1140.10 1291.0,1139.30 1291.6,1138.30 1292.2,1134.70 1292.8,1140.60 1293.4,1138.20 1294.1,1137.60 1294.7,1134.70 1295.3,1135.70 1295.9,1136.80 1296.5,1140.80 1297.1,1138.70 1297.7,1139.10 1298.3,1137.00 1299.0,1139.30 1299.6,1135.90 1300.2,1136.40 1300.8,1138.00 1301.4,1135.70 1302.0,1140.20 1302.6,1136.20 1303.3,1137.70 1303.9,1140.60 1304.5,1137.00 1305.1,1138.30 1305.7,1139.00 1306.3,1137.40 1306.9,1136.20 1307.6,1137.90 1308.2,1139.70 1308.8,1137.20 1309.4,1139.00 1310.0,1136.20 1310.6,1137.10 1311.2,1140.60 1311.9,1135.00 1312.5,1140.50 1313.1,1134.90 1313.7,1139.80 1314.3,1137.00 1314.9,1139.10 1315.5,1136.10 1316.2,1135.70 1316.8,1135.20 1317.4,1134.60 1318.0,1137.00 1318.6,1134.90 1319.2,1136.40 1319.8,1140.20 1320.5,1139.10 1321.1,1137.30 1321.7,1134.70 1322.3,1134.90 1322.9,1141.00 1323.5,1137.40 1324.1,1138.40 1324.8,1139.30 1325.4,1138.50 1326.0,1139.40 1326.6,1138.20 1327.2,1137.80 1327.8,1137.50 1328.4,1140.30 1329.0,1140.90 1329.7,1137.00 1330.3,1135.90 1330.9,1140.50 1331.5,1136.40 1332.1,1139.20 1332.7,1136.10 1333.3,1138.40 1334.0,1136.60 1334.6,1134.90 1335.2,1134.70 1335.8,1136.50 1336.4,1137.60 1337.0,1137.40 1337.6,1137.40 1338.3,1137.80 1338.9,1135.40 1339.5,1138.80 1340.1,1139.50 1340.7,1137.40 1341.3,1137.60 1341.9,1135.40 1342.6,1134.80 1343.2,1136.20 1343.8,1137.40 1344.4,1135.30 1345.0,1136.90 1345.6,1137.60 1346.2,1138.00 1346.9,1139.30 1347.5,1138.00 1348.1,1135.70 1348.7,1136.60 1349.3,1137.40 1349.9,1138.10 1350.5,1137.30 1351.2,1137.10 1351.8,1140.40 1352.4,1138.90 1353.0,1140.50 1353.6,1135.70 1354.2,1138.90 1354.8,1137.70 1355.5,1136.60 1356.1,1134.90 1356.7,1140.30 1357.3,1134.60 1357.9,1139.90 1358.5,1137.00 1359.1,1140.10 1359.7,1134.80 1360.4,1134.90 1361.0,1137.20 1361.6,1138.50 1362.2,1138.80 1362.8,1136.40 1363.4,1138.70 1364.0,1137.20 1364.7,1135.70 1365.3,1135.40 1365.9,1136.20 1366.5,1140.30 1367.1,1136.40 1367.7,1138.10 1368.3,1135.50 1369.0,1140.90 1369.6,1140.30 1370.2,1135.70 1370.8,1136.00 1371.4,1140.20 1372.0,1136.50 1372.6,1135.20 1373.3,1138.40 1373.9,1135.50 1374.5,1135.10 1375.1,1138.70 1375.7,1140.80 1376.3,1135.80 1376.9,1140.10 1377.6,1138.60 1378.2,1140.10 1378.8,1136.70 1379.4,1136.80 1380.0,1138.30 1380.6,1136.00 1381.2,1136.50 1381.9,1135.40 1382.5,1140.00 1383.1,1137.60 1383.7,1135.50 1384.3,1140.40 1384.9,1136.00 1385.5,1134.90 1386.2,1137.70 1386.8,1138.80 1387.4,1138.10 1388.0,1138.90 1388.6,1137.30 1389.2,1128.30 1389.8,1138.50 1390.4,1135.90 1391.1,1140.30 1391.7,1135.10 1392.3,1136.90 1392.9,1138.50 1393.5,1140.80 1394.1,1136.90 1394.7,1135.90 1395.4,1138.80 1396.0,1139.80 1396.6,1136.60 1397.2,1137.90 1397.8,1139.20 1398.4,1138.20 1399.0,1140.30 1399.7,1135.80 1400.3,1140.00 1400.9,1128.30 1401.5,1136.70 1402.1,1140.10 1402.7,1138.00 1403.3,1140.50 1404.0,1138.60 1404.6,1139.70 1405.2,1136.10 1405.8,1137.70 1406.4,1137.70 1407.0,1136.50 1407.6,1137.60 1408.3,1138.80 1408.9,1140.60 1409.5,1138.00 1410.1,1135.20 1410.7,1137.10 1411.3,1136.60 1411.9,1128.80 1412.6,1137.40 1413.2,1136.60 1413.8,1139.60 1414.4,1137.40 1415.0,1140.20 1415.6,1136.50 1416.2,1140.80 1416.9,1135.50 1417.5,1138.50 1418.1,1135.60 1418.7,1136.20 1419.3,1139.40 1419.9,1138.00 1420.5,1137.00 1421.1,1135.50 1421.8,1139.50 1422.4,1138.40 1423.0,1135.60 1423.6,1137.00 1424.2,1137.60 1424.8,1135.70 1425.4,1136.20 1426.1,1138.40 1426.7,1139.20 1427.3,1137.90 1427.9,1137.50 1428.5,1138.60 1429.1,1139.10 1429.7,1139.10 1430.4,1139.20 1431.0,1139.20 1431.6,1139.10 1432.2,1138.70 1432.8,1139.10 1433.4,1139.30 1434.0,1139.00 1434.7,1138.90 1435.3,1139.20 1435.9,1139.20 1436.5,1139.00 1437.1,1138.70 1437.7,1139.00 1438.3,1138.90 1439.0,1139.10 1439.6,1139.30 1440.2,1139.00 1440.8,1139.00 1441.4,1139.10 1442.0,1139.00 1442.6,1139.10 1443.3,1138.80 1443.9,1139.00 1444.5,1139.20 1445.1,1139.00 1445.7,1138.90 1446.3,1138.80 1446.9,1138.80 1447.6,1138.70 1448.2,1139.20 1448.8,1139.00 1449.4,1139.10 1450.6,1139.10 1451.2,1138.80 1451.8,1139.00 1452.5,1138.90 1453.1,1138.70 1453.7,1139.00 1454.3,1139.30 1454.9,1139.30 1455.5,1138.80 1456.1,1139.20 1456.8,1138.70 1457.4,1138.80 1458.0,1138.80 1458.6,1138.90 1459.2,1138.70 1459.8,1138.80 1460.4,1138.70 1461.1,1139.10 1461.7,1139.20 1462.3,1139.00 1462.9,1138.70 1463.5,1138.80 1464.1,1138.80 1464.7,1139.30 1465.4,1139.00 1466.0,1138.80 1466.6,1139.00 1467.2,1138.90 1467.8,1139.10 1468.4,1139.00 1469.0,1139.10 1469.7,1139.20 1470.3,1139.00 1470.9,1138.80 1471.5,1139.00 1472.1,1139.00 1472.7,1138.80 1473.3,1139.20 1474.0,1139.10 1474.6,1138.80 1475.2,1139.20 1475.8,1139.20 1476.4,1139.10 1477.0,1139.00 1477.6,1139.00 1478.3,1138.80 1478.9,1138.70 1479.5,1139.20 1480.1,1138.90 1480.7,1139.00 1481.3,1139.10 1481.9,1139.20 1482.5,1139.10 1483.2,1139.00 1483.8,1139.00 1484.4,1138.80 1485.0,1139.20 1485.6,1139.10 1486.2,1138.70 1486.8,1139.20 1487.5,1139.30 1488.1,1139.30 1488.7,1139.10 1489.3,1139.10 1489.9,1139.30 1490.5,1139.20 1491.1,1138.90 1491.8,1139.20 1492.4,1139.30 1493.0,1139.00 1493.6,1138.90 1494.2,1139.00 1494.8,1138.80 1495.4,1139.20 1496.1,1138.80 1496.7,1139.10 1497.3,1138.90 1497.9,1138.90 1498.5,1139.20 1499.1,1139.30 1499.7,1138.90 1500.4,1139.30 1501.0,1138.80 1501.6,1138.90 1502.2,1138.90 1502.8,1139.10 1503.4,1138.90 1504.0,1138.90 1504.7,1139.10 1505.3,1139.00 1505.9,1139.10 1506.5,1139.00 1507.1,1138.90 1507.7,1139.00 1508.3,1139.20 1509.0,1139.10 1509.6,1138.90 1510.2,1139.00 1510.8,1138.70 1511.4,1139.20 1512.0,1139.30 1512.6,1139.20 1513.2,1139.20 1513.9,1138.80 1514.5,1138.90 1515.1,1138.80 1515.7,1138.70 1516.3,1138.90 1516.9,1139.00 1517.5,1139.50 1518.2,1140.10 1518.8,1137.90 1519.4,1141.00 1520.0,1141.70 1520.6,1139.70 1521.2,1140.90 1521.8,1142.00 1522.5,1139.10 1523.1,1136.50 1523.7,1137.00 1524.3,1139.60 1524.9,1140.20 1525.5,1138.30 1526.1,1137.70 1526.8,1140.80 1527.4,1140.40 1528.0,1141.40 1528.6,1139.90 1529.2,1140.10 1529.8,1138.90 1530.4,1138.30 1531.1,1139.80 1531.7,1139.70 1532.3,1137.20 1532.9,1138.10 1533.5,1136.30 1534.1,1140.10 1534.7,1136.70 1535.4,1139.00 1536.0,1142.20 1536.6,1141.70 1537.2,1140.60 1537.8,1141.10 1538.4,1140.30 1539.0,1142.10 1539.7,1136.90 1540.3,1139.90 1540.9,1138.30 1541.5,1138.10 1542.1,1142.00 1542.7,1141.10 1543.3,1137.70 1543.9,1139.40 1544.6,1140.30 1545.2,1139.50 1545.8,1138.20 1546.4,1136.20 1547.0,1140.40 1547.6,1140.50 1548.2,1138.20 1548.9,1136.10 1549.5,1136.10 1550.1,1140.40 1550.7,1140.50 1551.3,1141.60 1551.9,1138.20 1552.5,1139.60 1553.2,1140.10 1553.8,1140.60 1554.4,1142.00 1555.0,1138.10 1555.6,1139.80 1556.2,1141.40 1556.8,1141.50 1557.5,1137.60 1558.1,1138.60 1558.7,1139.80 1559.3,1140.10 1559.9,1140.80 1560.5,1142.10 1561.1,1141.60 1561.8,1141.90 1562.4,1141.50 1563.0,1140.60 1563.6,1141.30 1564.2,1140.90 1564.8,1141.00 1565.4,1141.90 1566.1,1141.30 1566.7,1141.60 1567.3,1140.90 1567.9,1140.50 1568.5,1140.90 1569.1,1140.70 1569.7,1142.20 1570.4,1142.10 1571.0,1141.40 1571.6,1142.00 1572.2,1141.00 1572.8,1142.00 1573.4,1141.00 1574.0,1141.50 1574.6,1141.10 1575.3,1141.00 1575.9,1141.60 1576.5,1141.00 1577.1,1141.70 1577.7,1142.30 1578.3,1142.10 1578.9,1140.70 1579.6,1140.50 1580.2,1141.40 1580.8,1142.10 1581.4,1141.80 1582.0,1142.10 1582.6,1141.70 1583.2,1141.20 1583.9,1141.10 1584.5,1141.80 1585.1,1141.90 1585.7,1142.00 1586.3,1140.90 1586.9,1141.10 1587.5,1140.50 1588.2,1140.90 1588.8,1141.30 1589.4,1141.90 1590.0,1142.20 1590.6,1141.90 1591.2,1141.60 1591.8,1141.50 1592.5,1140.80 1593.1,1141.80 1593.7,1141.10 1594.3,1141.80 1594.9,1141.70 1595.5,1141.70 1596.1,1142.10 1596.8,1141.30 1597.4,1141.90 1598.0,1141.50 1598.6,1141.90 1599.2,1142.10 1599.8,1142.50 1600.4,1142.00 1601.1,1142.40 1601.7,1142.70 1602.3,1142.00 1602.9,1141.80 1603.5,1142.60 1604.1,1141.90 1604.7,1141.90 1605.3,1142.20 1606.0,1142.70 1606.6,1142.60 1607.2,1142.20 1607.8,1141.80 1608.4,1143.10 1609.0,1142.30 1609.6,1142.20 1610.3,1142.90 1610.9,1142.70 1611.5,1141.90 1612.1,1142.20 1612.7,1143.90 1613.3,1143.60 1613.9,1142.10 1614.6,1142.40 1615.2,1142.50 1615.8,1143.10 1616.4,1144.10 1617.0,1143.20 1617.6,1142.00 1618.2,1144.40 1618.9,1142.20 1619.5,1143.10 1620.1,1143.90 1620.7,1143.70 1621.3,1142.80 1621.9,1143.60 1622.5,1143.70 1623.2,1142.10 1623.8,1144.60 1624.4,1143.10 1625.0,1143.30 1625.6,1143.40 1626.2,1144.50 1626.8,1143.20 1627.5,1145.00 1628.1,1143.60 1628.7,1144.40 1629.3,1144.50 1629.9,1142.30 1630.5,1143.90 1631.1,1142.60 1631.8,1143.20 1632.4,1143.70 1633.0,1143.10 1633.6,1145.40 1634.2,1143.20 1634.8,1143.30 1635.4,1144.00 1636.0,1143.00 1636.7,1145.40 1637.3,1145.50 1637.9,1144.30 1638.5,1145.10 1639.1,1143.60 1639.7,1143.70 1640.3,1143.50 1641.0,1145.30 1641.6,1145.00 1642.2,1142.40 1642.8,1142.90 1643.4,1143.90 1644.0,1144.10 1644.6,1143.90 1645.3,1143.50 1645.9,1142.60 1646.5,1143.00 1647.1,1145.40 1647.7,1144.50 1648.3,1143.60 1648.9,1143.30 1649.6,1142.60 1650.2,1142.90 1650.8,1145.20 1651.4,1143.70 1652.0,1144.30 1652.6,1143.10 1653.2,1144.90 1653.9,1142.90 1654.5,1143.20 1655.1,1142.50 1655.7,1142.60 1656.3,1143.10 1656.9,1144.30 1657.5,1144.90 1658.2,1143.00 1658.8,1143.20 1659.4,1143.00 1660.0,1144.20 1660.6,1145.50 1661.2,1144.10 1661.8,1142.50 1662.5,1144.70 1663.1,1143.20 1663.7,1142.70 1664.3,1144.80 1664.9,1142.80 1665.5,1142.90 1666.1,1145.30 1666.7,1145.00 1667.4,1143.60 1668.0,1143.70 1668.6,1143.20 1669.2,1144.20 1669.8,1143.70 1670.4,1142.90 1671.0,1143.30 1671.7,1144.90 1672.3,1143.10 1672.9,1143.10 1673.5,1142.90 1674.1,1144.60 1674.7,1144.90 1675.3,1144.10 1676.0,1142.90 1676.6,1143.30 1677.2,1143.40 1677.8,1143.30 1678.4,1143.60 1679.0,1143.50 1679.6,1144.50 1680.3,1142.90 1680.9,1143.10 1681.5,1144.80 1682.1,1143.20 1682.7,1144.10 1683.9,1144.10 1684.6,1145.10 1685.2,1143.50 1685.8,1142.80 1686.4,1143.00 1687.0,1145.10 1687.6,1144.00 1688.2,1143.40 1688.9,1143.80 1689.5,1143.30 1690.1,1144.40 1690.7,1143.10 1691.3,1144.30 1691.9,1144.60 1692.5,1143.40 1693.2,1145.20 1693.8,1143.60 1694.4,1145.20 1695.0,1143.60 1695.6,1143.90 1696.2,1144.70 1696.8,1144.50 1697.4,1143.00 1698.1,1143.60 1698.7,1143.90 1699.3,1143.70 1699.9,1144.00 1700.5,1143.10 1701.1,1144.70 1701.7,1143.40 1702.4,1144.10 1703.0,1144.60 1703.6,1143.30 1704.2,1144.50 1704.8,1144.70 1705.4,1143.30 1706.0,1144.40 1706.7,1144.30 1707.3,1145.40 1707.9,1145.00 1708.5,1143.90 1709.1,1144.70 1709.7,1144.00 1710.3,1143.50 1711.0,1143.60 1711.6,1143.50 1712.2,1144.20 1712.8,1144.30 1713.4,1143.10 1714.0,1143.00 1714.6,1143.80 1715.3,1144.10 1715.9,1143.90 1716.5,1143.10 1717.1,1143.10 1717.7,1144.10 1718.3,1143.70 1718.9,1144.00 1719.6,1145.20 1720.2,1143.10 1720.8,1144.90 1721.4,1145.10 1722.0,1143.30 1722.6,1144.60 1723.2,1143.50 1723.9,1143.60 1724.5,1143.80 1725.1,1144.60 1725.7,1143.10 1726.3,1144.30 1726.9,1144.00 1727.5,1145.10 1728.1,1145.10 1728.8,1145.30 1729.4,1145.80 1730.0,1144.50 1730.6,1143.20 1731.2,1145.80 1731.8,1143.40 1732.4,1145.80 1733.1,1145.40 1733.7,1143.70 1734.3,1144.30 1734.9,1144.80 1735.5,1144.40 1736.1,1145.50 1736.7,1143.30 1737.4,1144.80 1738.0,1143.60 1738.6,1144.50 1739.2,1145.50 1739.8,1145.70 1740.4,1143.70 1741.0,1145.40 1741.7,1143.50 1742.3,1145.80 1742.9,1144.40 1743.5,1143.90 1744.1,1145.10 1744.7,1143.40 1745.3,1145.90 1746.0,1146.20 1746.6,1146.40 1747.2,1144.60 1747.8,1144.20 1748.4,1146.30 1749.0,1146.30 1749.6,1146.40 1750.3,1146.40 1750.9,1145.60 1751.5,1143.60 1752.1,1145.90 1752.7,1146.60 1753.3,1144.30 1753.9,1144.50 1754.6,1144.60 1755.2,1146.20 1755.8,1145.70 1756.4,1144.00 1757.0,1145.50 1757.6,1144.90 1758.2,1146.30 1758.8,1145.80 1759.5,1145.00 1760.1,1144.50 1760.7,1144.20 1761.3,1146.30 1761.9,1146.00 1762.5,1145.00 1763.1,1146.90 1763.8,1144.40 1764.4,1146.90 1765.0,1144.80 1765.6,1146.50 1766.2,1145.10 1766.8,1144.60 1767.4,1145.30 1768.1,1146.80 1768.7,1146.60 1769.3,1146.70 1769.9,1145.30 1770.5,1147.10 1771.1,1144.70 1771.7,1145.10 1772.4,1147.60 1773.0,1146.30 1773.6,1147.00 1774.2,1146.60 1774.8,1145.40 1775.4,1145.60 1776.0,1147.00 1776.7,1146.20 1777.3,1147.20 1777.9,1147.60 1778.5,1146.30 1779.1,1147.60 1779.7,1146.70"/>
<polyline stroke="#006DE0" points="362.0,226.30 363.2,228.10 363.8,234.80 364.5,241.50 366.9,241.50 367.5,248.30 369.4,248.30 370.0,255.10 371.8,255.10 372.4,261.80 373.1,261.80 373.7,268.50 374.3,268.50 374.9,275.30 376.1,275.30 376.7,282.10 379.2,282.10 379.8,288.80 381.6,288.80 382.3,295.50 382.9,288.80 383.5,288.80 384.1,295.50 385.3,295.50 385.9,302.30 387.2,302.30 387.8,309.10 389.0,309.10 389.6,315.80 391.5,315.80 392.1,322.50 393.9,322.50 394.5,329.30 395.2,329.30 395.8,336.10 396.4,336.10 397.0,342.80 398.2,342.80 398.8,349.50 400.1,349.50 400.7,356.30 401.3,356.30 401.9,363.10 403.1,363.10 403.8,369.80 405.0,369.80 405.6,376.50 406.8,376.50 407.4,383.30 410.5,383.30 411.1,390.10 412.3,390.10 413.0,396.80 415.4,396.80 416.0,403.50 417.9,403.50 418.5,410.30 420.9,410.30 421.6,417.10 423.4,417.10 424.0,423.80 424.6,430.50 425.2,430.50 425.9,437.30 427.1,437.30 427.7,444.10 428.3,444.10 428.9,450.80 430.8,450.80 431.4,457.50 432.0,457.50 432.6,464.30 435.7,464.30 436.3,471.10 437.5,471.10 438.1,477.80 438.7,477.80 439.4,484.50 440.0,477.80 440.6,477.80 441.2,484.50 441.8,484.50 442.4,491.30 444.9,491.30 445.5,498.10 447.3,498.10 448.0,504.80 449.8,504.80 450.4,511.50 452.3,511.50 452.9,518.30 454.7,518.30 455.3,525.10 455.9,518.30 456.6,525.10 457.2,525.10 457.8,531.80 459.6,531.80 460.2,538.50 461.5,538.50 462.1,545.30 463.3,545.30 463.9,552.10 464.5,545.30 465.2,552.10 465.8,552.10 466.4,558.80 469.4,558.80 470.1,565.50 471.9,565.50 472.5,572.30 474.4,572.30 475.0,579.10 476.8,579.10 477.4,585.80 478.0,579.10 478.7,585.80 479.3,585.80 479.9,592.50 483.0,592.50 483.6,599.30 485.4,599.30 486.0,606.10 486.6,599.30 487.3,606.10 490.3,606.10 490.9,612.80 494.6,612.80 495.2,619.50 495.9,612.80 496.5,619.50 497.7,619.50 498.3,626.30 501.4,626.30 502.0,633.10 503.8,633.10 504.4,639.80 506.3,639.80 506.9,646.50 507.5,639.80 508.1,639.80 508.7,646.50 511.8,646.50 512.4,653.30 514.3,653.30 514.9,660.10 518.0,660.10 518.6,666.80 519.2,660.10 519.8,666.80 522.3,666.80 522.9,673.50 525.3,673.50 525.9,680.30 526.6,680.30 527.2,673.50 527.8,680.30 529.6,680.30 530.2,687.10 530.8,680.30 531.5,687.10 533.9,687.10 534.5,693.80 538.8,693.80 539.4,700.50 540.1,693.80 540.7,700.50 544.4,700.50 545.0,707.30 549.3,707.30 549.9,714.10 555.4,714.10 556.0,720.80 559.1,720.80 559.7,727.50 562.8,727.50 563.4,734.30 564.0,734.30 564.6,727.50 565.2,734.30 568.3,734.30 568.9,741.10 573.2,741.10 573.8,747.80 577.5,747.80 578.1,754.50 581.2,754.50 581.8,761.30 584.3,761.30 584.9,768.10 585.5,761.30 586.1,768.10 589.2,768.10 589.8,774.80 590.4,768.10 591.0,774.80 593.5,774.80 594.1,781.50 594.7,774.80 595.3,774.80 595.9,781.50 598.4,781.50 599.0,788.30 599.6,781.50 600.2,788.30 605.1,788.30 605.8,795.10 610.7,795.10 611.3,801.80 615.6,801.80 616.2,808.50 620.5,808.50 621.1,815.30 621.7,808.50 622.3,808.50 622.9,815.30 626.6,815.30 627.2,822.10 627.9,822.10 628.5,815.30 629.1,822.10 633.4,822.10 634.0,828.80 634.6,828.80 635.2,822.10 635.8,822.10 636.5,828.80 644.4,828.80 645.1,835.50 645.7,828.80 646.3,835.50 649.4,835.50 650.0,842.30 650.6,835.50 651.2,842.30 662.2,842.30 662.9,849.10 663.5,849.10 664.1,842.30 664.7,842.30 665.3,849.10 665.9,842.30 666.5,842.30 667.2,849.10 667.8,842.30 668.4,849.10 669.0,842.30 669.6,849.10 673.3,849.10 673.9,842.30 674.5,849.10 675.1,842.30 675.8,849.10 687.4,849.10 688.0,855.80 694.8,855.80 695.4,862.50 700.3,862.50 700.9,869.30 701.5,862.50 702.2,869.30 702.8,862.50 704.0,862.50 704.6,869.30 710.1,869.30 710.8,876.10 711.4,869.30 712.0,876.10 712.6,869.30 713.2,869.30 713.8,876.10 714.4,869.30 715.0,876.10 722.4,876.10 723.0,882.80 723.6,876.10 724.3,882.80 724.9,876.10 725.5,882.80 726.1,876.10 726.7,882.80 727.3,876.10 727.9,882.80 732.2,882.80 732.9,889.50 734.7,889.50 735.3,882.80 735.9,889.50 743.9,889.50 744.5,896.30 747.0,896.30 747.6,889.50 748.2,896.30 758.0,896.30 758.6,903.10 759.3,896.30 759.9,903.10 771.5,903.10 772.2,909.80 772.8,909.80 773.4,903.10 774.0,909.80 774.6,903.10 775.2,909.80 775.8,909.80 776.4,903.10 777.1,909.80 783.2,909.80 783.8,916.50 784.4,909.80 785.0,916.50 785.7,909.80 787.5,909.80 788.1,916.50 788.7,916.50 789.3,909.80 790.0,916.50 799.2,916.50 799.8,923.30 812.1,923.30 812.7,930.10 813.3,930.10 813.9,923.30 814.5,930.10 815.1,923.30 815.7,930.10 816.4,930.10 817.0,923.30 817.6,930.10 825.0,930.10 825.6,936.80 826.2,930.10 826.8,936.80 828.0,936.80 828.6,930.10 829.3,936.80 836.0,936.80 836.6,943.50 839.1,943.50 839.7,936.80 840.3,943.50 848.9,943.50 849.5,950.30 861.2,950.30 861.8,957.10 871.0,957.10 871.6,963.80 872.2,957.10 872.8,963.80 873.5,957.10 874.1,963.80 885.1,963.80 885.7,970.50 894.3,970.50 895.0,977.30 895.6,970.50 896.8,970.50 897.4,977.30 898.0,970.50 899.2,970.50 899.9,977.30 910.3,977.30 910.9,984.10 911.5,977.30 912.1,977.30 912.8,984.10 915.2,984.10 915.8,977.30 916.4,984.10 927.5,984.10 928.1,990.80 928.7,984.10 929.3,990.80 930.6,990.80 931.2,984.10 931.8,990.80 942.2,990.80 942.8,997.50 944.1,997.50 944.7,990.80 945.9,990.80 946.5,997.50 947.1,990.80 947.8,997.50 949.0,997.50 949.6,990.80 950.2,997.50 964.3,997.50 964.9,1004.30 965.6,997.50 967.4,997.50 968.0,1004.30 971.1,1004.30 971.7,997.50 972.9,997.50 973.5,1004.30 974.2,1004.30 974.8,997.50 975.4,997.50 976.0,1004.30 990.7,1004.30 991.3,1011.10 1028.2,1011.10 1028.8,1017.80 1058.3,1017.80 1058.9,1024.50 1059.5,1017.80 1060.1,1017.80 1060.7,1024.50 1087.1,1024.50 1087.7,1031.30 1088.4,1024.50 1089.0,1031.30 1108.6,1031.30 1109.2,1031.40 1109.9,1031.30 1111.1,1031.30 1111.7,1031.40 1112.3,1031.40 1112.9,1031.20 1113.5,1031.30 1114.1,1031.20 1114.8,1031.30 1115.4,1031.40 1116.0,1031.40 1116.6,1031.30 1117.2,1031.30 1117.8,1031.40 1118.4,1031.40 1119.1,1031.30 1121.5,1031.30 1122.1,1031.20 1122.7,1031.40 1123.4,1031.30 1124.0,1031.40 1124.6,1031.30 1125.2,1031.40 1125.8,1031.20 1126.4,1031.40 1127.0,1031.40 1127.7,1031.20 1128.3,1031.30 1128.9,1031.20 1129.5,1031.40 1130.1,1031.30 1130.7,1031.10 1131.3,1031.40 1132.0,1031.40 1132.6,1031.20 1133.2,1031.40 1133.8,1031.20 1134.4,1031.40 1135.0,1031.20 1135.6,1031.10 1136.3,1031.20 1136.9,1031.30 1137.5,1031.10 1138.1,1031.40 1138.7,1031.30 1139.3,1031.30 1139.9,1031.50 1140.6,1031.40 1141.2,1031.20 1141.8,1031.10 1142.4,1031.20 1143.0,1030.70 1143.6,1030.50 1144.2,1031.10 1144.8,1028.60 1145.5,1031.40 1146.1,1028.50 1146.7,1028.10 1147.3,1029.70 1147.9,1029.20 1148.5,1029.00 1149.1,1030.70 1149.8,1025.30 1150.4,1026.10 1151.0,1026.30 1151.6,1028.60 1152.2,1027.40 1152.8,1029.20 1153.4,1027.80 1154.1,1025.30 1154.7,1030.20 1155.3,1028.30 1155.9,1027.60 1156.5,1026.90 1157.1,1030.70 1157.7,1029.10 1158.4,1025.70 1159.0,1027.60 1159.6,1031.40 1160.2,1026.70 1160.8,1025.90 1161.4,1025.50 1162.0,1025.50 1162.7,1025.30 1163.3,1028.10 1163.9,1030.90 1164.5,1031.20 1165.1,1030.90 1165.7,1027.50 1166.3,1029.50 1167.0,1025.50 1167.6,1030.00 1168.2,1026.90 1168.8,1029.30 1169.4,1026.90 1170.0,1028.20 1170.6,1028.00 1171.3,1029.00 1171.9,1027.20 1172.5,1026.30 1173.1,1028.70 1173.7,1030.00 1174.3,1027.60 1174.9,1031.20 1175.5,1027.90 1176.2,1027.60 1176.8,1027.60 1177.4,1031.30 1178.0,1027.00 1178.6,1029.10 1179.2,1028.50 1179.8,1031.40 1180.5,1025.40 1181.1,1031.40 1181.7,1027.30 1182.3,1030.20 1182.9,1026.40 1183.5,1029.70 1184.1,1027.20 1184.8,1026.30 1185.4,1026.20 1186.0,1026.20 1186.6,1030.90 1187.2,1028.00 1187.8,1027.10 1188.4,1030.30 1189.1,1028.50 1189.7,1029.40 1190.3,1026.90 1190.9,1026.30 1191.5,1026.00 1192.1,1027.30 1192.7,1027.70 1193.4,1029.20 1194.0,1027.60 1194.6,1027.60 1195.2,1026.40 1195.8,1027.60 1196.4,1028.60 1197.0,1026.00 1197.7,1029.90 1198.3,1031.00 1198.9,1028.70 1199.5,1027.10 1200.1,1031.30 1200.7,1025.90 1201.3,1026.30 1202.0,1030.00 1202.6,1030.30 1203.2,1027.50 1203.8,1025.70 1204.4,1029.20 1205.0,1027.30 1205.6,1030.60 1206.2,1025.50 1206.9,1028.50 1207.5,1026.20 1208.1,1031.20 1208.7,1031.30 1209.3,1028.90 1209.9,1029.50 1210.5,1030.70 1211.2,1030.90 1211.8,1025.90 1212.4,1027.20 1213.0,1030.20 1213.6,1026.90 1214.2,1027.80 1214.8,1031.40 1215.5,1028.10 1216.1,1028.80 1216.7,1026.50 1217.3,1026.00 1217.9,1030.90 1218.5,1030.00 1219.1,1025.90 1219.8,1031.10 1220.4,1030.80 1221.0,1027.20 1221.6,1030.70 1222.2,1026.00 1222.8,1026.70 1223.4,1030.70 1224.1,1028.50 1224.7,1027.70 1225.3,1027.00 1225.9,1026.50 1226.5,1026.20 1227.1,1028.00 1227.7,1028.30 1228.4,1025.60 1229.0,1029.80 1229.6,1025.70 1230.2,1026.00 1230.8,1030.80 1231.4,1027.50 1232.0,1025.90 1232.7,1027.60 1233.3,1026.20 1233.9,1025.90 1234.5,1031.40 1235.1,1025.60 1235.7,1029.90 1236.3,1028.00 1236.9,1026.60 1237.6,1030.70 1238.2,1028.40 1238.8,1025.40 1239.4,1027.50 1240.0,1029.00 1240.6,1027.80 1241.2,1027.00 1241.9,1027.20 1242.5,1027.00 1243.1,1028.10 1243.7,1031.50 1244.3,1031.00 1244.9,1028.60 1245.5,1030.80 1246.2,1026.10 1246.8,1029.10 1247.4,1030.30 1248.0,1026.80 1248.6,1028.70 1249.2,1028.40 1249.8,1025.80 1250.5,1031.30 1251.1,1027.50 1251.7,1028.70 1252.3,1025.20 1252.9,1028.40 1253.5,1027.90 1254.1,1030.70 1254.8,1025.50 1255.4,1030.70 1256.0,1026.30 1256.6,1030.50 1257.2,1030.00 1257.8,1029.00 1258.4,1027.40 1259.1,1028.00 1259.7,1029.40 1260.3,1027.50 1260.9,1025.50 1261.5,1029.60 1262.1,1029.60 1262.7,1026.90 1263.4,1026.50 1264.0,1030.90 1264.6,1027.30 1265.2,1025.60 1265.8,1030.60 1266.4,1026.60 1267.0,1027.60 1267.6,1028.70 1268.3,1028.10 1268.9,1026.50 1269.5,1026.60 1270.1,1028.30 1270.7,1025.90 1271.3,1030.90 1271.9,1026.80 1272.6,1026.10 1273.2,1026.30 1273.8,1026.40 1274.4,1030.90 1275.0,1027.90 1275.6,1029.90 1276.2,1030.40 1276.9,1025.70 1277.5,1029.10 1278.1,1030.40 1278.7,1026.60 1279.3,1031.10 1279.9,1028.50 1280.5,1028.40 1281.2,1031.50 1281.8,1026.30 1282.4,1031.10 1283.0,1026.70 1283.6,1028.70 1284.2,1025.60 1284.8,1027.40 1285.5,1026.70 1286.1,1030.10 1286.7,1031.40 1287.3,1026.10 1287.9,1025.50 1288.5,1029.30 1289.1,1031.40 1289.8,1031.30 1290.4,1030.60 1291.0,1029.80 1291.6,1028.80 1292.2,1025.20 1292.8,1031.10 1293.4,1028.70 1294.1,1028.10 1294.7,1025.20 1295.3,1026.20 1295.9,1027.30 1296.5,1031.30 1297.1,1029.20 1297.7,1029.60 1298.3,1027.50 1299.0,1029.80 1299.6,1026.40 1300.2,1026.90 1300.8,1028.50 1301.4,1026.20 1302.0,1030.70 1302.6,1026.70 1303.3,1028.20 1303.9,1031.10 1304.5,1027.50 1305.1,1028.80 1305.7,1029.50 1306.3,1027.90 1306.9,1026.70 1307.6,1028.40 1308.2,1030.20 1308.8,1027.70 1309.4,1029.50 1310.0,1026.70 1310.6,1027.60 1311.2,1031.10 1311.9,1025.50 1312.5,1031.00 1313.1,1025.40 1313.7,1030.30 1314.3,1027.50 1314.9,1029.60 1315.5,1026.60 1316.2,1026.20 1316.8,1025.70 1317.4,1025.10 1318.0,1027.50 1318.6,1025.40 1319.2,1026.90 1319.8,1030.70 1320.5,1029.60 1321.1,1027.80 1321.7,1025.20 1322.3,1025.40 1322.9,1031.50 1323.5,1027.90 1324.1,1028.90 1324.8,1029.80 1325.4,1029.00 1326.0,1029.90 1326.6,1028.70 1327.2,1028.30 1327.8,1028.00 1328.4,1030.80 1329.0,1031.40 1329.7,1027.50 1330.3,1026.40 1330.9,1031.00 1331.5,1026.90 1332.1,1029.70 1332.7,1026.60 1333.3,1028.90 1334.0,1027.10 1334.6,1025.40 1335.2,1025.20 1335.8,1027.00 1336.4,1028.10 1337.0,1027.90 1337.6,1027.90 1338.3,1028.30 1338.9,1025.90 1339.5,1029.30 1340.1,1030.00 1340.7,1027.90 1341.3,1028.10 1341.9,1025.90 1342.6,1025.30 1343.2,1026.70 1343.8,1027.90 1344.4,1025.80 1345.0,1027.40 1345.6,1028.10 1346.2,1028.50 1346.9,1029.80 1347.5,1028.50 1348.1,1026.20 1348.7,1027.10 1349.3,1027.90 1349.9,1028.60 1350.5,1027.80 1351.2,1027.60 1351.8,1030.90 1352.4,1029.40 1353.0,1031.00 1353.6,1026.20 1354.2,1029.40 1354.8,1028.20 1355.5,1027.10 1356.1,1025.40 1356.7,1030.80 1357.3,1025.10 1357.9,1030.40 1358.5,1027.50 1359.1,1030.60 1359.7,1025.30 1360.4,1025.40 1361.0,1027.70 1361.6,1029.00 1362.2,1029.30 1362.8,1026.90 1363.4,1029.20 1364.0,1027.70 1364.7,1026.20 1365.3,1025.90 1365.9,1026.70 1366.5,1030.80 1367.1,1026.90 1367.7,1028.60 1368.3,1026.00 1369.0,1031.40 1369.6,1030.80 1370.2,1026.20 1370.8,1026.50 1371.4,1030.70 1372.0,1027.00 1372.6,1025.70 1373.3,1028.90 1373.9,1026.00 1374.5,1025.60 1375.1,1029.20 1375.7,1031.30 1376.3,1026.30 1376.9,1030.60 1377.6,1029.10 1378.2,1030.60 1378.8,1027.20 1379.4,1027.30 1380.0,1028.80 1380.6,1026.50 1381.2,1027.00 1381.9,1025.90 1382.5,1030.50 1383.1,1028.10 1383.7,1026.00 1384.3,1030.90 1384.9,1026.50 1385.5,1025.40 1386.2,1028.20 1386.8,1029.30 1387.4,1028.60 1388.0,1029.40 1388.6,1027.80 1389.2,1018.80 1389.8,1029.00 1390.4,1026.40 1391.1,1030.80 1391.7,1025.60 1392.3,1027.40 1392.9,1029.00 1393.5,1031.30 1394.1,1027.40 1394.7,1026.40 1395.4,1029.30 1396.0,1030.30 1396.6,1027.10 1397.2,1028.40 1397.8,1029.70 1398.4,1028.70 1399.0,1030.80 1399.7,1026.30 1400.3,1030.50 1400.9,1018.80 1401.5,1027.20 1402.1,1030.60 1402.7,1028.50 1403.3,1031.00 1404.0,1029.10 1404.6,1030.20 1405.2,1026.60 1405.8,1028.20 1406.4,1028.20 1407.0,1027.00 1407.6,1028.10 1408.3,1029.30 1408.9,1031.10 1409.5,1028.50 1410.1,1025.70 1410.7,1027.60 1411.3,1027.10 1411.9,1019.30 1412.6,1027.90 1413.2,1027.10 1413.8,1030.10 1414.4,1027.90 1415.0,1030.70 1415.6,1027.00 1416.2,1031.30 1416.9,1026.00 1417.5,1029.00 1418.1,1026.10 1418.7,1026.70 1419.3,1029.90 1419.9,1028.50 1420.5,1027.50 1421.1,1026.00 1421.8,1030.00 1422.4,1028.90 1423.0,1026.10 1423.6,1027.50 1424.2,1028.10 1424.8,1026.20 1425.4,1026.70 1426.1,1028.90 1426.7,1029.70 1427.3,1028.40 1427.9,1028.00 1428.5,1029.10 1429.1,1029.60 1429.7,1029.60 1430.4,1029.70 1431.0,1029.70 1431.6,1029.60 1432.2,1029.20 1432.8,1029.60 1433.4,1029.80 1434.0,1029.50 1434.7,1029.40 1435.3,1029.70 1435.9,1029.70 1436.5,1029.50 1437.1,1029.20 1437.7,1029.50 1438.3,1029.40 1439.0,1029.60 1439.6,1029.80 1440.2,1029.50 1440.8,1029.50 1441.4,1029.60 1442.0,1029.50 1442.6,1029.60 1443.3,1029.30 1443.9,1029.50 1444.5,1029.70 1445.1,1029.50 1445.7,1029.40 1446.3,1029.30 1446.9,1029.30 1447.6,1029.20 1448.2,1029.70 1448.8,1029.50 1449.4,1029.60 1450.6,1029.60 1451.2,1029.30 1451.8,1029.50 1452.5,1029.40 1453.1,1029.20 1453.7,1029.50 1454.3,1029.80 1454.9,1029.80 1455.5,1029.30 1456.1,1029.70 1456.8,1029.20 1457.4,1029.30 1458.0,1029.30 1458.6,1029.40 1459.2,1029.20 1459.8,1029.30 1460.4,1029.20 1461.1,1029.60 1461.7,1029.70 1462.3,1029.50 1462.9,1029.20 1463.5,1029.30 1464.1,1029.30 1464.7,1029.80 1465.4,1029.50 1466.0,1029.30 1466.6,1029.50 1467.2,1029.40 1467.8,1029.60 1468.4,1029.50 1469.0,1029.60 1469.7,1029.70 1470.3,1029.50 1470.9,1029.30 1471.5,1029.50 1472.1,1029.50 1472.7,1029.30 1473.3,1029.70 1474.0,1029.60 1474.6,1029.30 1475.2,1029.70 1475.8,1029.70 1476.4,1029.60 1477.0,1029.50 1477.6,1029.50 1478.3,1029.30 1478.9,1029.20 1479.5,1029.70 1480.1,1029.40 1480.7,1029.50 1481.3,1029.60 1481.9,1029.70 1482.5,1029.60 1483.2,1029.50 1483.8,1029.50 1484.4,1029.30 1485.0,1029.70 1485.6,1029.60 1486.2,1029.20 1486.8,1029.70 1487.5,1029.80 1488.1,1029.80 1488.7,1029.60 1489.3,1029.60 1489.9,1029.80 1490.5,1029.70 1491.1,1029.40 1491.8,1029.70 1492.4,1029.80 1493.0,1029.50 1493.6,1029.40 1494.2,1029.50 1494.8,1029.30 1495.4,1029.70 1496.1,1029.30 1496.7,1029.60 1497.3,1029.40 1497.9,1029.40 1498.5,1029.70 1499.1,1029.80 1499.7,1029.40 1500.4,1029.80 1501.0,1029.30 1501.6,1029.40 1502.2,1029.40 1502.8,1029.60 1503.4,1029.40 1504.0,1029.40 1504.7,1029.60 1505.3,1029.50 1505.9,1029.60 1506.5,1029.50 1507.1,1029.40 1507.7,1029.50 1508.3,1029.70 1509.0,1029.60 1509.6,1029.40 1510.2,1029.50 1510.8,1029.20 1511.4,1029.70 1512.0,1029.80 1512.6,1029.70 1513.2,1029.70 1513.9,1029.30 1514.5,1029.40 1515.1,1029.30 1515.7,1029.20 1516.3,1029.40 1516.9,1029.50 1517.5,1030.00 1518.2,1030.60 1518.8,1028.40 1519.4,1031.50 1520.0,1032.20 1520.6,1030.20 1521.2,1031.40 1521.8,1032.50 1522.5,1029.60 1523.1,1027.00 1523.7,1027.50 1524.3,1030.10 1524.9,1030.70 1525.5,1028.80 1526.1,1028.20 1526.8,1031.30 1527.4,1030.90 1528.0,1031.90 1528.6,1030.40 1529.2,1030.60 1529.8,1029.40 1530.4,1028.80 1531.1,1030.30 1531.7,1030.20 1532.3,1027.70 1532.9,1028.60 1533.5,1026.80 1534.1,1030.60 1534.7,1027.20 1535.4,1029.50 1536.0,1032.70 1536.6,1032.20 1537.2,1031.10 1537.8,1031.60 1538.4,1030.80 1539.0,1032.60 1539.7,1027.40 1540.3,1030.40 1540.9,1028.80 1541.5,1028.60 1542.1,1032.50 1542.7,1031.60 1543.3,1028.20 1543.9,1029.90 1544.6,1030.80 1545.2,1030.00 1545.8,1028.70 1546.4,1026.70 1547.0,1030.90 1547.6,1031.00 1548.2,1028.70 1548.9,1026.60 1549.5,1026.60 1550.1,1030.90 1550.7,1031.00 1551.3,1032.10 1551.9,1028.70 1552.5,1030.10 1553.2,1030.60 1553.8,1031.10 1554.4,1032.50 1555.0,1028.60 1555.6,1030.30 1556.2,1031.90 1556.8,1032.00 1557.5,1028.10 1558.1,1029.10 1558.7,1030.30 1559.3,1030.60 1559.9,1031.30 1560.5,1032.60 1561.1,1032.10 1561.8,1032.40 1562.4,1032.00 1563.0,1031.10 1563.6,1031.80 1564.2,1031.40 1564.8,1031.50 1565.4,1032.40 1566.1,1031.80 1566.7,1032.10 1567.3,1031.40 1567.9,1031.00 1568.5,1031.40 1569.1,1031.20 1569.7,1032.70 1570.4,1032.60 1571.0,1031.90 1571.6,1032.50 1572.2,1031.50 1572.8,1032.50 1573.4,1031.50 1574.0,1032.00 1574.6,1031.60 1575.3,1031.50 1575.9,1032.10 1576.5,1031.50 1577.1,1032.20 1577.7,1032.80 1578.3,1032.60 1578.9,1031.20 1579.6,1031.00 1580.2,1031.90 1580.8,1032.60 1581.4,1032.30 1582.0,1032.60 1582.6,1032.20 1583.2,1031.70 1583.9,1031.60 1584.5,1032.30 1585.1,1032.40 1585.7,1032.50 1586.3,1031.40 1586.9,1031.60 1587.5,1031.00 1588.2,1031.40 1588.8,1031.80 1589.4,1032.40 1590.0,1032.70 1590.6,1032.40 1591.2,1032.10 1591.8,1032.00 1592.5,1031.30 1593.1,1032.30 1593.7,1031.60 1594.3,1032.30 1594.9,1032.20 1595.5,1032.20 1596.1,1032.60 1596.8,1031.80 1597.4,1032.40 1598.0,1032.00 1598.6,1032.40 1599.2,1032.60 1599.8,1033.00 1600.4,1032.50 1601.1,1032.90 1601.7,1033.20 1602.3,1032.50 1602.9,1032.30 1603.5,1033.10 1604.1,1032.40 1604.7,1032.40 1605.3,1032.70 1606.0,1033.20 1606.6,1033.10 1607.2,1032.70 1607.8,1032.30 1608.4,1033.60 1609.0,1032.80 1609.6,1032.70 1610.3,1033.40 1610.9,1033.20 1611.5,1032.40 1612.1,1032.70 1612.7,1034.40 1613.3,1034.10 1613.9,1032.60 1614.6,1032.90 1615.2,1033.00 1615.8,1033.60 1616.4,1034.60 1617.0,1033.70 1617.6,1032.50 1618.2,1034.90 1618.9,1032.70 1619.5,1033.60 1620.1,1034.40 1620.7,1034.20 1621.3,1033.30 1621.9,1034.10 1622.5,1034.20 1623.2,1032.60 1623.8,1035.10 1624.4,1033.60 1625.0,1033.80 1625.6,1033.90 1626.2,1035.00 1626.8,1033.70 1627.5,1035.50 1628.1,1034.10 1628.7,1034.90 1629.3,1035.00 1629.9,1032.80 1630.5,1034.40 1631.1,1033.10 1631.8,1033.70 1632.4,1034.20 1633.0,1033.60 1633.6,1035.90 1634.2,1033.70 1634.8,1033.80 1635.4,1034.50 1636.0,1033.50 1636.7,1035.90 1637.3,1036.00 1637.9,1034.80 1638.5,1035.60 1639.1,1034.10 1639.7,1034.20 1640.3,1034.00 1641.0,1035.80 1641.6,1035.50 1642.2,1032.90 1642.8,1033.40 1643.4,1034.40 1644.0,1034.60 1644.6,1034.40 1645.3,1034.00 1645.9,1033.10 1646.5,1033.50 1647.1,1035.90 1647.7,1035.00 1648.3,1034.10 1648.9,1033.80 1649.6,1033.10 1650.2,1033.40 1650.8,1035.70 1651.4,1034.20 1652.0,1034.80 1652.6,1033.60 1653.2,1035.40 1653.9,1033.40 1654.5,1033.70 1655.1,1033.00 1655.7,1033.10 1656.3,1033.60 1656.9,1034.80 1657.5,1035.40 1658.2,1033.50 1658.8,1033.70 1659.4,1033.50 1660.0,1034.70 1660.6,1036.00 1661.2,1034.60 1661.8,1033.00 1662.5,1035.20 1663.1,1033.70 1663.7,1033.20 1664.3,1035.30 1664.9,1033.30 1665.5,1033.40 1666.1,1035.80 1666.7,1035.50 1667.4,1034.10 1668.0,1034.20 1668.6,1033.70 1669.2,1034.70 1669.8,1034.20 1670.4,1033.40 1671.0,1033.80 1671.7,1035.40 1672.3,1033.60 1672.9,1033.60 1673.5,1033.40 1674.1,1035.10 1674.7,1035.40 1675.3,1034.60 1676.0,1033.40 1676.6,1033.80 1677.2,1033.90 1677.8,1033.80 1678.4,1034.10 1679.0,1034.00 1679.6,1035.00 1680.3,1033.40 1680.9,1033.60 1681.5,1035.30 1682.1,1033.70 1682.7,1034.60 1683.9,1034.60 1684.6,1035.60 1685.2,1034.00 1685.8,1033.30 1686.4,1033.50 1687.0,1035.60 1687.6,1034.50 1688.2,1033.90 1688.9,1034.30 1689.5,1033.80 1690.1,1034.90 1690.7,1033.60 1691.3,1034.80 1691.9,1035.10 1692.5,1033.90 1693.2,1035.70 1693.8,1034.10 1694.4,1035.70 1695.0,1034.10 1695.6,1034.40 1696.2,1035.20 1696.8,1035.00 1697.4,1033.50 1698.1,1034.10 1698.7,1034.40 1699.3,1034.20 1699.9,1034.50 1700.5,1033.60 1701.1,1035.20 1701.7,1033.90 1702.4,1034.60 1703.0,1035.10 1703.6,1033.80 1704.2,1035.00 1704.8,1035.20 1705.4,1033.80 1706.0,1034.90 1706.7,1034.80 1707.3,1035.90 1707.9,1035.50 1708.5,1034.40 1709.1,1035.20 1709.7,1034.50 1710.3,1034.00 1711.0,1034.10 1711.6,1034.00 1712.2,1034.70 1712.8,1034.80 1713.4,1033.60 1714.0,1033.50 1714.6,1034.30 1715.3,1034.60 1715.9,1034.40 1716.5,1033.60 1717.1,1033.60 1717.7,1034.60 1718.3,1034.20 1718.9,1034.50 1719.6,1035.70 1720.2,1033.60 1720.8,1035.40 1721.4,1035.60 1722.0,1033.80 1722.6,1035.10 1723.2,1034.00 1723.9,1034.10 1724.5,1034.30 1725.1,1035.10 1725.7,1033.60 1726.3,1034.80 1726.9,1034.50 1727.5,1035.60 1728.1,1035.60 1728.8,1035.80 1729.4,1036.30 1730.0,1035.00 1730.6,1033.70 1731.2,1036.30 1731.8,1033.90 1732.4,1036.30 1733.1,1035.90 1733.7,1034.20 1734.3,1034.80 1734.9,1035.30 1735.5,1034.90 1736.1,1036.00 1736.7,1033.80 1737.4,1035.30 1738.0,1034.10 1738.6,1035.00 1739.2,1036.00 1739.8,1036.20 1740.4,1034.20 1741.0,1035.90 1741.7,1034.00 1742.3,1036.30 1742.9,1034.90 1743.5,1034.40 1744.1,1035.60 1744.7,1033.90 1745.3,1036.40 1746.0,1036.70 1746.6,1036.90 1747.2,1035.10 1747.8,1034.70 1748.4,1036.80 1749.0,1036.80 1749.6,1036.90 1750.3,1036.90 1750.9,1036.10 1751.5,1034.10 1752.1,1036.40 1752.7,1037.10 1753.3,1034.80 1753.9,1035.00 1754.6,1035.10 1755.2,1036.70 1755.8,1036.20 1756.4,1034.50 1757.0,1036.00 1757.6,1035.40 1758.2,1036.80 1758.8,1036.30 1759.5,1035.50 1760.1,1035.00 1760.7,1034.70 1761.3,1036.80 1761.9,1036.50 1762.5,1035.50 1763.1,1037.40 1763.8,1034.90 1764.4,1037.40 1765.0,1035.30 1765.6,1037.00 1766.2,1035.60 1766.8,1035.10 1767.4,1035.80 1768.1,1037.30 1768.7,1037.10 1769.3,1037.20 1769.9,1035.80 1770.5,1037.60 1771.1,1035.20 1771.7,1035.60 1772.4,1038.10 1773.0,1036.80 1773.6,1037.50 1774.2,1037.10 1774.8,1035.90 1775.4,1036.10 1776.0,1037.50 1776.7,1036.70 1777.3,1037.70 1777.9,1038.10 1778.5,1036.80 1779.1,1038.10 1779.7,1037.20"/>
<polyline stroke="#00AB66" points="362.0,150.20 363.2,151.80 363.8,158.50 364.5,165.20 366.9,165.20 367.5,172.00 369.4,172.00 370.0,178.80 371.8,178.80 372.4,185.50 373.1,185.50 373.7,192.20 374.3,192.20 374.9,199.00 376.1,199.00 376.7,205.80 379.2,205.80 379.8,212.50 381.6,212.50 382.3,219.20 382.9,212.50 383.5,212.50 384.1,219.20 385.3,219.20 385.9,226.00 387.2,226.00 387.8,232.80 389.0,232.80 389.6,239.50 391.5,239.50 392.1,246.20 393.9,246.20 394.5,253.00 395.2,253.00 395.8,259.80 396.4,259.80 397.0,266.50 398.2,266.50 398.8,273.20 400.1,273.20 400.7,280.00 401.3,280.00 401.9,286.80 403.1,286.80 403.8,293.50 405.0,293.50 405.6,300.20 406.8,300.20 407.4,307.00 410.5,307.00 411.1,313.80 412.3,313.80 413.0,320.50 415.4,320.50 416.0,327.20 417.9,327.20 418.5,334.00 420.9,334.00 421.6,340.80 423.4,340.80 424.0,347.50 424.6,354.20 425.2,354.20 425.9,361.00 427.1,361.00 427.7,367.80 428.3,367.80 428.9,374.50 430.8,374.50 431.4,381.20 432.0,381.20 432.6,388.00 435.7,388.00 436.3,394.80 437.5,394.80 438.1,401.50 438.7,401.50 439.4,408.20 440.0,401.50 440.6,401.50 441.2,408.20 441.8,408.20 442.4,415.00 444.9,415.00 445.5,421.80 447.3,421.80 448.0,428.50 449.8,428.50 450.4,435.20 452.3,435.20 452.9,442.00 454.7,442.00 455.3,448.80 455.9,442.00 456.6,448.80 457.2,448.80 457.8,455.50 459.6,455.50 460.2,462.20 461.5,462.20 462.1,469.00 463.3,469.00 463.9,475.80 464.5,469.00 465.2,475.80 465.8,475.80 466.4,482.50 469.4,482.50 470.1,489.20 471.9,489.20 472.5,496.00 474.4,496.00 475.0,502.80 476.8,502.80 477.4,509.50 478.0,502.80 478.7,509.50 479.3,509.50 479.9,516.20 483.0,516.20 483.6,523.00 485.4,523.00 486.0,529.80 486.6,523.00 487.3,529.80 490.3,529.80 490.9,536.50 494.6,536.50 495.2,543.20 495.9,536.50 496.5,543.20 497.7,543.20 498.3,550.00 501.4,550.00 502.0,556.80 503.8,556.80 504.4,563.50 506.3,563.50 506.9,570.20 507.5,563.50 508.1,563.50 508.7,570.20 511.8,570.20 512.4,577.00 514.3,577.00 514.9,583.80 518.0,583.80 518.6,590.50 519.2,583.80 519.8,590.50 522.3,590.50 522.9,597.20 525.3,597.20 525.9,604.00 526.6,604.00 527.2,597.20 527.8,604.00 529.6,604.00 530.2,610.80 530.8,604.00 531.5,610.80 533.9,610.80 534.5,617.50 538.8,617.50 539.4,624.20 540.1,617.50 540.7,624.20 544.4,624.20 545.0,631.00 549.3,631.00 549.9,637.80 555.4,637.80 556.0,644.50 559.1,644.50 559.7,651.20 562.8,651.20 563.4,658.00 564.0,658.00 564.6,651.20 565.2,658.00 568.3,658.00 568.9,664.80 573.2,664.80 573.8,671.50 577.5,671.50 578.1,678.20 581.2,678.20 581.8,685.00 584.3,685.00 584.9,691.80 585.5,685.00 586.1,691.80 589.2,691.80 589.8,698.50 590.4,691.80 591.0,698.50 593.5,698.50 594.1,705.20 594.7,698.50 595.3,698.50 595.9,705.20 598.4,705.20 599.0,712.00 599.6,705.20 600.2,712.00 605.1,712.00 605.8,718.80 610.7,718.80 611.3,725.50 615.6,725.50 616.2,732.20 620.5,732.20 621.1,739.00 621.7,732.20 622.3,732.20 622.9,739.00 626.6,739.00 627.2,745.80 627.9,745.80 628.5,739.00 629.1,745.80 633.4,745.80 634.0,752.50 634.6,752.50 635.2,745.80 635.8,745.80 636.5,752.50 644.4,752.50 645.1,759.20 645.7,752.50 646.3,759.20 649.4,759.20 650.0,766.00 650.6,759.20 651.2,766.00 662.2,766.00 662.9,772.80 663.5,772.80 664.1,766.00 664.7,766.00 665.3,772.80 665.9,766.00 666.5,766.00 667.2,772.80 667.8,766.00 668.4,772.80 669.0,766.00 669.6,772.80 673.3,772.80 673.9,766.00 674.5,772.80 675.1,766.00 675.8,772.80 687.4,772.80 688.0,779.50 694.8,779.50 695.4,786.20 700.3,786.20 700.9,793.00 701.5,786.20 702.2,793.00 702.8,786.20 704.0,786.20 704.6,793.00 710.1,793.00 710.8,799.80 711.4,793.00 712.0,799.80 712.6,793.00 713.2,793.00 713.8,799.80 714.4,793.00 715.0,799.80 722.4,799.80 723.0,806.50 723.6,799.80 724.3,806.50 724.9,799.80 725.5,806.50 726.1,799.80 726.7,806.50 727.3,799.80 727.9,806.50 732.2,806.50 732.9,813.20 734.7,813.20 735.3,806.50 735.9,813.20 743.9,813.20 744.5,820.00 747.0,820.00 747.6,813.20 748.2,820.00 758.0,820.00 758.6,826.80 759.3,820.00 759.9,826.80 771.5,826.80 772.2,833.50 772.8,833.50 773.4,826.80 774.0,833.50 774.6,826.80 775.2,833.50 775.8,833.50 776.4,826.80 777.1,833.50 783.2,833.50 783.8,840.20 784.4,833.50 785.0,840.20 785.7,833.50 787.5,833.50 788.1,840.20 788.7,840.20 789.3,833.50 790.0,840.20 799.2,840.20 799.8,847.00 812.1,847.00 812.7,853.80 813.3,853.80 813.9,847.00 814.5,853.80 815.1,847.00 815.7,853.80 816.4,853.80 817.0,847.00 817.6,853.80 825.0,853.80 825.6,860.50 826.2,853.80 826.8,860.50 828.0,860.50 828.6,853.80 829.3,860.50 836.0,860.50 836.6,867.20 839.1,867.20 839.7,860.50 840.3,867.20 848.9,867.20 849.5,874.00 861.2,874.00 861.8,880.80 871.0,880.80 871.6,887.50 872.2,880.80 872.8,887.50 873.5,880.80 874.1,887.50 885.1,887.50 885.7,894.20 894.3,894.20 895.0,901.00 895.6,894.20 896.8,894.20 897.4,901.00 898.0,894.20 899.2,894.20 899.9,901.00 910.3,901.00 910.9,907.80 911.5,901.00 912.1,901.00 912.8,907.80 915.2,907.80 915.8,901.00 916.4,907.80 927.5,907.80 928.1,914.50 928.7,907.80 929.3,914.50 930.6,914.50 931.2,907.80 931.8,914.50 942.2,914.50 942.8,921.20 944.1,921.20 944.7,914.50 945.9,914.50 946.5,921.20 947.1,914.50 947.8,921.20 949.0,921.20 949.6,914.50 950.2,921.20 964.3,921.20 964.9,928.00 965.6,921.20 967.4,921.20 968.0,928.00 971.1,928.00 971.7,921.20 972.9,921.20 973.5,928.00 974.2,928.00 974.8,921.20 975.4,921.20 976.0,928.00 990.7,928.00 991.3,934.80 1028.2,934.80 1028.8,941.50 1058.3,941.50 1058.9,948.20 1059.5,941.50 1060.1,941.50 1060.7,948.20 1087.1,948.20 1087.7,955.00 1088.4,948.20 1089.0,955.00 1108.6,955.00 1109.2,955.10 1109.9,955.00 1111.1,955.00 1111.7,955.10 1112.3,955.10 1112.9,954.90 1113.5,955.00 1114.1,954.90 1114.8,955.00 1115.4,955.10 1116.0,955.10 1116.6,955.00 1117.2,955.00 1117.8,955.10 1118.4,955.10 1119.1,955.00 1121.5,955.00 1122.1,954.90 1122.7,955.10 1123.4,955.00 1124.0,955.10 1124.6,955.00 1125.2,955.10 1125.8,954.90 1126.4,955.10 1127.0,955.10 1127.7,954.90 1128.3,955.00 1128.9,954.90 1129.5,955.10 1130.1,955.00 1130.7,954.80 1131.3,955.10 1132.0,955.10 1132.6,954.90 1133.2,955.10 1133.8,954.90 1134.4,955.10 1135.0,954.90 1135.6,954.80 1136.3,954.90 1136.9,955.00 1137.5,954.80 1138.1,955.10 1138.7,955.00 1139.3,955.00 1139.9,955.20 1140.6,955.10 1141.2,954.90 1141.8,954.80 1142.4,954.90 1143.0,954.40 1143.6,954.20 1144.2,954.80 1144.8,952.30 1145.5,955.10 1146.1,952.20 1146.7,951.80 1147.3,953.40 1147.9,952.90 1148.5,952.70 1149.1,954.40 1149.8,949.00 1150.4,949.80 1151.0,950.00 1151.6,952.30 1152.2,951.10 1152.8,952.90 1153.4,951.50 1154.1,949.00 1154.7,953.90 1155.3,952.00 1155.9,951.30 1156.5,950.60 1157.1,954.40 1157.7,952.80 1158.4,949.40 1159.0,951.30 1159.6,955.10 1160.2,950.40 1160.8,949.60 1161.4,949.20 1162.0,949.20 1162.7,949.00 1163.3,951.80 1163.9,954.60 1164.5,954.90 1165.1,954.60 1165.7,951.20 1166.3,953.20 1167.0,949.20 1167.6,953.70 1168.2,950.60 1168.8,953.00 1169.4,950.60 1170.0,951.90 1170.6,951.70 1171.3,952.70 1171.9,950.90 1172.5,950.00 1173.1,952.40 1173.7,953.70 1174.3,951.30 1174.9,954.90 1175.5,951.60 1176.2,951.30 1176.8,951.30 1177.4,955.00 1178.0,950.70 1178.6,952.80 1179.2,952.20 1179.8,955.10 1180.5,949.10 1181.1,955.10 1181.7,951.00 1182.3,953.90 1182.9,950.10 1183.5,953.40 1184.1,950.90 1184.8,950.00 1185.4,949.90 1186.0,949.90 1186.6,954.60 1187.2,951.70 1187.8,950.80 1188.4,954.00 1189.1,952.20 1189.7,953.10 1190.3,950.60 1190.9,950.00 1191.5,949.70 1192.1,951.00 1192.7,951.40 1193.4,952.90 1194.0,951.30 1194.6,951.30 1195.2,950.10 1195.8,951.30 1196.4,952.30 1197.0,949.70 1197.7,953.60 1198.3,954.70 1198.9,952.40 1199.5,950.80 1200.1,955.00 1200.7,949.60 1201.3,950.00 1202.0,953.70 1202.6,954.00 1203.2,951.20 1203.8,949.40 1204.4,952.90 1205.0,951.00 1205.6,954.30 1206.2,949.20 1206.9,952.20 1207.5,949.90 1208.1,954.90 1208.7,955.00 1209.3,952.60 1209.9,953.20 1210.5,954.40 1211.2,954.60 1211.8,949.60 1212.4,950.90 1213.0,953.90 1213.6,950.60 1214.2,951.50 1214.8,955.10 1215.5,951.80 1216.1,952.50 1216.7,950.20 1217.3,949.70 1217.9,954.60 1218.5,953.70 1219.1,949.60 1219.8,954.80 1220.4,954.50 1221.0,950.90 1221.6,954.40 1222.2,949.70 1222.8,950.40 1223.4,954.40 1224.1,952.20 1224.7,951.40 1225.3,950.70 1225.9,950.20 1226.5,949.90 1227.1,951.70 1227.7,952.00 1228.4,949.30 1229.0,953.50 1229.6,949.40 1230.2,949.70 1230.8,954.50 1231.4,951.20 1232.0,949.60 1232.7,951.30 1233.3,949.90 1233.9,949.60 1234.5,955.10 1235.1,949.30 1235.7,953.60 1236.3,951.70 1236.9,950.30 1237.6,954.40 1238.2,952.10 1238.8,949.10 1239.4,951.20 1240.0,952.70 1240.6,951.50 1241.2,950.70 1241.9,950.90 1242.5,950.70 1243.1,951.80 1243.7,955.20 1244.3,954.70 1244.9,952.30 1245.5,954.50 1246.2,949.80 1246.8,952.80 1247.4,954.00 1248.0,950.50 1248.6,952.40 1249.2,952.10 1249.8,949.50 1250.5,955.00 1251.1,951.20 1251.7,952.40 1252.3,948.90 1252.9,952.10 1253.5,951.60 1254.1,954.40 1254.8,949.20 1255.4,954.40 1256.0,950.00 1256.6,954.20 1257.2,953.70 1257.8,952.70 1258.4,951.10 1259.1,951.70 1259.7,953.10 1260.3,951.20 1260.9,949.20 1261.5,953.30 1262.1,953.30 1262.7,950.60 1263.4,950.20 1264.0,954.60 1264.6,951.00 1265.2,949.30 1265.8,954.30 1266.4,950.30 1267.0,951.30 1267.6,952.40 1268.3,951.80 1268.9,950.20 1269.5,950.30 1270.1,952.00 1270.7,949.60 1271.3,954.60 1271.9,950.50 1272.6,949.80 1273.2,950.00 1273.8,950.10 1274.4,954.60 1275.0,951.60 1275.6,953.60 1276.2,954.10 1276.9,949.40 1277.5,952.80 1278.1,954.10 1278.7,950.30 1279.3,954.80 1279.9,952.20 1280.5,952.10 1281.2,955.20 1281.8,950.00 1282.4,954.80 1283.0,950.40 1283.6,952.40 1284.2,949.30 1284.8,951.10 1285.5,950.40 1286.1,953.80 1286.7,955.10 1287.3,949.80 1287.9,949.20 1288.5,953.00 1289.1,955.10 1289.8,955.00 1290.4,954.30 1291.0,953.50 1291.6,952.50 1292.2,948.90 1292.8,954.80 1293.4,952.40 1294.1,951.80 1294.7,948.90 1295.3,949.90 1295.9,951.00 1296.5,955.00 1297.1,952.90 1297.7,953.30 1298.3,951.20 1299.0,953.50 1299.6,950.10 1300.2,950.60 1300.8,952.20 1301.4,949.90 1302.0,954.40 1302.6,950.40 1303.3,951.90 1303.9,954.80 1304.5,951.20 1305.1,952.50 1305.7,953.20 1306.3,951.60 1306.9,950.40 1307.6,952.10 1308.2,953.90 1308.8,951.40 1309.4,953.20 1310.0,950.40 1310.6,951.30 1311.2,954.80 1311.9,949.20 1312.5,954.70 1313.1,949.10 1313.7,954.00 1314.3,951.20 1314.9,953.30 1315.5,950.30 1316.2,949.90 1316.8,949.40 1317.4,948.80 1318.0,951.20 1318.6,949.10 1319.2,950.60 1319.8,954.40 1320.5,953.30 1321.1,951.50 1321.7,948.90 1322.3,949.10 1322.9,955.20 1323.5,951.60 1324.1,952.60 1324.8,953.50 1325.4,952.70 1326.0,953.60 1326.6,952.40 1327.2,952.00 1327.8,951.70 1328.4,954.50 1329.0,955.10 1329.7,951.20 1330.3,950.10 1330.9,954.70 1331.5,950.60 1332.1,953.40 1332.7,950.30 1333.3,952.60 1334.0,950.80 1334.6,949.10 1335.2,948.90 1335.8,950.70 1336.4,951.80 1337.0,951.60 1337.6,951.60 1338.3,952.00 1338.9,949.60 1339.5,953.00 1340.1,953.70 1340.7,951.60 1341.3,951.80 1341.9,949.60 1342.6,949.00 1343.2,950.40 1343.8,951.60 1344.4,949.50 1345.0,951.10 1345.6,951.80 1346.2,952.20 1346.9,953.50 1347.5,952.20 1348.1,949.90 1348.7,950.80 1349.3,951.60 1349.9,952.30 1350.5,951.50 1351.2,951.30 1351.8,954.60 1352.4,953.10 1353.0,954.70 1353.6,949.90 1354.2,953.10 1354.8,951.90 1355.5,950.80 1356.1,949.10 1356.7,954.50 1357.3,948.80 1357.9,954.10 1358.5,951.20 1359.1,954.30 1359.7,949.00 1360.4,949.10 1361.0,951.40 1361.6,952.70 1362.2,953.00 1362.8,950.60 1363.4,952.90 1364.0,951.40 1364.7,949.90 1365.3,949.60 1365.9,950.40 1366.5,954.50 1367.1,950.60 1367.7,952.30 1368.3,949.70 1369.0,955.10 1369.6,954.50 1370.2,949.90 1370.8,950.20 1371.4,954.40 1372.0,950.70 1372.6,949.40 1373.3,952.60 1373.9,949.70 1374.5,949.30 1375.1,952.90 1375.7,955.00 1376.3,950.00 1376.9,954.30 1377.6,952.80 1378.2,954.30 1378.8,950.90 1379.4,951.00 1380.0,952.50 1380.6,950.20 1381.2,950.70 1381.9,949.60 1382.5,954.20 1383.1,951.80 1383.7,949.70 1384.3,954.60 1384.9,950.20 1385.5,949.10 1386.2,951.90 1386.8,953.00 1387.4,952.30 1388.0,953.10 1388.6,951.50 1389.2,942.50 1389.8,952.70 1390.4,950.10 1391.1,954.50 1391.7,949.30 1392.3,951.10 1392.9,952.70 1393.5,955.00 1394.1,951.10 1394.7,950.10 1395.4,953.00 1396.0,954.00 1396.6,950.80 1397.2,952.10 1397.8,953.40 1398.4,952.40 1399.0,954.50 1399.7,950.00 1400.3,954.20 1400.9,942.50 1401.5,950.90 1402.1,954.30 1402.7,952.20 1403.3,954.70 1404.0,952.80 1404.6,953.90 1405.2,950.30 1405.8,951.90 1406.4,951.90 1407.0,950.70 1407.6,951.80 1408.3,953.00 1408.9,954.80 1409.5,952.20 1410.1,949.40 1410.7,951.30 1411.3,950.80 1411.9,943.00 1412.6,951.60 1413.2,950.80 1413.8,953.80 1414.4,951.60 1415.0,954.40 1415.6,950.70 1416.2,955.00 1416.9,949.70 1417.5,952.70 1418.1,949.80 1418.7,950.40 1419.3,953.60 1419.9,952.20 1420.5,951.20 1421.1,949.70 1421.8,953.70 1422.4,952.60 1423.0,949.80 1423.6,951.20 1424.2,951.80 1424.8,949.90 1425.4,950.40 1426.1,952.60 1426.7,953.40 1427.3,952.10 1427.9,951.70 1428.5,952.80 1429.1,953.30 1429.7,953.30 1430.4,953.40 1431.0,953.40 1431.6,953.30 1432.2,952.90 1432.8,953.30 1433.4,953.50 1434.0,953.20 1434.7,953.10 1435.3,953.40 1435.9,953.40 1436.5,953.20 1437.1,952.90 1437.7,953.20 1438.3,953.10 1439.0,953.30 1439.6,953.50 1440.2,953.20 1440.8,953.20 1441.4,953.30 1442.0,953.20 1442.6,953.30 1443.3,953.00 1443.9,953.20 1444.5,953.40 1445.1,953.20 1445.7,953.10 1446.3,953.00 1446.9,953.00 1447.6,952.90 1448.2,953.40 1448.8,953.20 1449.4,953.30 1450.6,953.30 1451.2,953.00 1451.8,953.20 1452.5,953.10 1453.1,952.90 1453.7,953.20 1454.3,953.50 1454.9,953.50 1455.5,953.00 1456.1,953.40 1456.8,952.90 1457.4,953.00 1458.0,953.00 1458.6,953.10 1459.2,952.90 1459.8,953.00 1460.4,952.90 1461.1,953.30 1461.7,953.40 1462.3,953.20 1462.9,952.90 1463.5,953.00 1464.1,953.00 1464.7,953.50 1465.4,953.20 1466.0,953.00 1466.6,953.20 1467.2,953.10 1467.8,953.30 1468.4,953.20 1469.0,953.30 1469.7,953.40 1470.3,953.20 1470.9,953.00 1471.5,953.20 1472.1,953.20 1472.7,953.00 1473.3,953.40 1474.0,953.30 1474.6,953.00 1475.2,953.40 1475.8,953.40 1476.4,953.30 1477.0,953.20 1477.6,953.20 1478.3,953.00 1478.9,952.90 1479.5,953.40 1480.1,953.10 1480.7,953.20 1481.3,953.30 1481.9,953.40 1482.5,953.30 1483.2,953.20 1483.8,953.20 1484.4,953.00 1485.0,953.40 1485.6,953.30 1486.2,952.90 1486.8,953.40 1487.5,953.50 1488.1,953.50 1488.7,953.30 1489.3,953.30 1489.9,953.50 1490.5,953.40 1491.1,953.10 1491.8,953.40 1492.4,953.50 1493.0,953.20 1493.6,953.10 1494.2,953.20 1494.8,953.00 1495.4,953.40 1496.1,953.00 1496.7,953.30 1497.3,953.10 1497.9,953.10 1498.5,953.40 1499.1,953.50 1499.7,953.10 1500.4,953.50 1501.0,953.00 1501.6,953.10 1502.2,953.10 1502.8,953.30 1503.4,953.10 1504.0,953.10 1504.7,953.30 1505.3,953.20 1505.9,953.30 1506.5,953.20 1507.1,953.10 1507.7,953.20 1508.3,953.40 1509.0,953.30 1509.6,953.10 1510.2,953.20 1510.8,952.90 1511.4,953.40 1512.0,953.50 1512.6,953.40 1513.2,953.40 1513.9,953.00 1514.5,953.10 1515.1,953.00 1515.7,952.90 1516.3,953.10 1516.9,953.20 1517.5,953.70 1518.2,954.30 1518.8,952.10 1519.4,955.20 1520.0,955.90 1520.6,953.90 1521.2,955.10 1521.8,956.20 1522.5,953.30 1523.1,950.70 1523.7,951.20 1524.3,953.80 1524.9,954.40 1525.5,952.50 1526.1,951.90 1526.8,955.00 1527.4,954.60 1528.0,955.60 1528.6,954.10 1529.2,954.30 1529.8,953.10 1530.4,952.50 1531.1,954.00 1531.7,953.90 1532.3,951.40 1532.9,952.30 1533.5,950.50 1534.1,954.30 1534.7,950.90 1535.4,953.20 1536.0,956.40 1536.6,955.90 1537.2,954.80 1537.8,955.30 1538.4,954.50 1539.0,956.30 1539.7,951.10 1540.3,954.10 1540.9,952.50 1541.5,952.30 1542.1,956.20 1542.7,955.30 1543.3,951.90 1543.9,953.60 1544.6,954.50 1545.2,953.70 1545.8,952.40 1546.4,950.40 1547.0,954.60 1547.6,954.70 1548.2,952.40 1548.9,950.30 1549.5,950.30 1550.1,954.60 1550.7,954.70 1551.3,955.80 1551.9,952.40 1552.5,953.80 1553.2,954.30 1553.8,954.80 1554.4,956.20 1555.0,952.30 1555.6,954.00 1556.2,955.60 1556.8,955.70 1557.5,951.80 1558.1,952.80 1558.7,954.00 1559.3,954.30 1559.9,955.00 1560.5,956.30 1561.1,955.80 1561.8,956.10 1562.4,955.70 1563.0,954.80 1563.6,955.50 1564.2,955.10 1564.8,955.20 1565.4,956.10 1566.1,955.50 1566.7,955.80 1567.3,955.10 1567.9,954.70 1568.5,955.10 1569.1,954.90 1569.7,956.40 1570.4,956.30 1571.0,955.60 1571.6,956.20 1572.2,955.20 1572.8,956.20 1573.4,955.20 1574.0,955.70 1574.6,955.30 1575.3,955.20 1575.9,955.80 1576.5,955.20 1577.1,955.90 1577.7,956.50 1578.3,956.30 1578.9,954.90 1579.6,954.70 1580.2,955.60 1580.8,956.30 1581.4,956.00 1582.0,956.30 1582.6,955.90 1583.2,955.40 1583.9,955.30 1584.5,956.00 1585.1,956.10 1585.7,956.20 1586.3,955.10 1586.9,955.30 1587.5,954.70 1588.2,955.10 1588.8,955.50 1589.4,956.10 1590.0,956.40 1590.6,956.10 1591.2,955.80 1591.8,955.70 1592.5,955.00 1593.1,956.00 1593.7,955.30 1594.3,956.00 1594.9,955.90 1595.5,955.90 1596.1,956.30 1596.8,955.50 1597.4,956.10 1598.0,955.70 1598.6,956.10 1599.2,956.30 1599.8,956.70 1600.4,956.20 1601.1,956.60 1601.7,956.90 1602.3,956.20 1602.9,956.00 1603.5,956.80 1604.1,956.10 1604.7,956.10 1605.3,956.40 1606.0,956.90 1606.6,956.80 1607.2,956.40 1607.8,956.00 1608.4,957.30 1609.0,956.50 1609.6,956.40 1610.3,957.10 1610.9,956.90 1611.5,956.10 1612.1,956.40 1612.7,958.10 1613.3,957.80 1613.9,956.30 1614.6,956.60 1615.2,956.70 1615.8,957.30 1616.4,958.30 1617.0,957.40 1617.6,956.20 1618.2,958.60 1618.9,956.40 1619.5,957.30 1620.1,958.10 1620.7,957.90 1621.3,957.00 1621.9,957.80 1622.5,957.90 1623.2,956.30 1623.8,958.80 1624.4,957.30 1625.0,957.50 1625.6,957.60 1626.2,958.70 1626.8,957.40 1627.5,959.20 1628.1,957.80 1628.7,958.60 1629.3,958.70 1629.9,956.50 1630.5,958.10 1631.1,956.80 1631.8,957.40 1632.4,957.90 1633.0,957.30 1633.6,959.60 1634.2,957.40 1634.8,957.50 1635.4,958.20 1636.0,957.20 1636.7,959.60 1637.3,959.70 1637.9,958.50 1638.5,959.30 1639.1,957.80 1639.7,957.90 1640.3,957.70 1641.0,959.50 1641.6,959.20 1642.2,956.60 1642.8,957.10 1643.4,958.10 1644.0,958.30 1644.6,958.10 1645.3,957.70 1645.9,956.80 1646.5,957.20 1647.1,959.60 1647.7,958.70 1648.3,957.80 1648.9,957.50 1649.6,956.80 1650.2,957.10 1650.8,959.40 1651.4,957.90 1652.0,958.50 1652.6,957.30 1653.2,959.10 1653.9,957.10 1654.5,957.40 1655.1,956.70 1655.7,956.80 1656.3,957.30 1656.9,958.50 1657.5,959.10 1658.2,957.20 1658.8,957.40 1659.4,957.20 1660.0,958.40 1660.6,959.70 1661.2,958.30 1661.8,956.70 1662.5,958.90 1663.1,957.40 1663.7,956.90 1664.3,959.00 1664.9,957.00 1665.5,957.10 1666.1,959.50 1666.7,959.20 1667.4,957.80 1668.0,957.90 1668.6,957.40 1669.2,958.40 1669.8,957.90 1670.4,957.10 1671.0,957.50 1671.7,959.10 1672.3,957.30 1672.9,957.30 1673.5,957.10 1674.1,958.80 1674.7,959.10 1675.3,958.30 1676.0,957.10 1676.6,957.50 1677.2,957.60 1677.8,957.50 1678.4,957.80 1679.0,957.70 1679.6,958.70 1680.3,957.10 1680.9,957.30 1681.5,959.00 1682.1,957.40 1682.7,958.30 1683.9,958.30 1684.6,959.30 1685.2,957.70 1685.8,957.00 1686.4,957.20 1687.0,959.30 1687.6,958.20 1688.2,957.60 1688.9,958.00 1689.5,957.50 1690.1,958.60 1690.7,957.30 1691.3,958.50 1691.9,958.80 1692.5,957.60 1693.2,959.40 1693.8,957.80 1694.4,959.40 1695.0,957.80 1695.6,958.10 1696.2,958.90 1696.8,958.70 1697.4,957.20 1698.1,957.80 1698.7,958.10 1699.3,957.90 1699.9,958.20 1700.5,957.30 1701.1,958.90 1701.7,957.60 1702.4,958.30 1703.0,958.80 1703.6,957.50 1704.2,958.70 1704.8,958.90 1705.4,957.50 1706.0,958.60 1706.7,958.50 1707.3,959.60 1707.9,959.20 1708.5,958.10 1709.1,958.90 1709.7,958.20 1710.3,957.70 1711.0,957.80 1711.6,957.70 1712.2,958.40 1712.8,958.50 1713.4,957.30 1714.0,957.20 1714.6,958.00 1715.3,958.30 1715.9,958.10 1716.5,957.30 1717.1,957.30 1717.7,958.30 1718.3,957.90 1718.9,958.20 1719.6,959.40 1720.2,957.30 1720.8,959.10 1721.4,959.30 1722.0,957.50 1722.6,958.80 1723.2,957.70 1723.9,957.80 1724.5,958.00 1725.1,958.80 1725.7,957.30 1726.3,958.50 1726.9,958.20 1727.5,959.30 1728.1,959.30 1728.8,959.50 1729.4,960.00 1730.0,958.70 1730.6,957.40 1731.2,960.00 1731.8,957.60 1732.4,960.00 1733.1,959.60 1733.7,957.90 1734.3,958.50 1734.9,959.00 1735.5,958.60 1736.1,959.70 1736.7,957.50 1737.4,959.00 1738.0,957.80 1738.6,958.70 1739.2,959.70 1739.8,959.90 1740.4,957.90 1741.0,959.60 1741.7,957.70 1742.3,960.00 1742.9,958.60 1743.5,958.10 1744.1,959.30 1744.7,957.60 1745.3,960.10 1746.0,960.40 1746.6,960.60 1747.2,958.80 1747.8,958.40 1748.4,960.50 1749.0,960.50 1749.6,960.60 1750.3,960.60 1750.9,959.80 1751.5,957.80 1752.1,960.10 1752.7,960.80 1753.3,958.50 1753.9,958.70 1754.6,958.80 1755.2,960.40 1755.8,959.90 1756.4,958.20 1757.0,959.70 1757.6,959.10 1758.2,960.50 1758.8,960.00 1759.5,959.20 1760.1,958.70 1760.7,958.40 1761.3,960.50 1761.9,960.20 1762.5,959.20 1763.1,961.10 1763.8,958.60 1764.4,961.10 1765.0,959.00 1765.6,960.70 1766.2,959.30 1766.8,958.80 1767.4,959.50 1768.1,961.00 1768.7,960.80 1769.3,960.90 1769.9,959.50 1770.5,961.30 1771.1,958.90 1771.7,959.30 1772.4,961.80 1773.0,960.50 1773.6,961.20 1774.2,960.80 1774.8,959.60 1775.4,959.80 1776.0,961.20 1776.7,960.40 1777.3,961.40 1777.9,961.80 1778.5,960.50 1779.1,961.80 1779.7,960.90"/>
</g>
<g fill="#000"><rect x="240" y="55" width="1545" height="10"/><rect x="240" y="1296" width="1545" height="11"/><rect x="240" y="55" width="10" height="1252"/><rect x="1775" y="55" width="10" height="1252"/></g>
<path d="M245.0,1301.5V1276.5M245.0,60V85M398.5,1301.5V1289.0M398.5,60V72.5M552.0,1301.5V1276.5M552.0,60V85M705.5,1301.5V1289.0M705.5,60V72.5M859.0,1301.5V1276.5M859.0,60V85M1012.5,1301.5V1289.0M1012.5,60V72.5M1166.0,1301.5V1276.5M1166.0,60V85M1319.5,1301.5V1289.0M1319.5,60V72.5M1473.0,1301.5V1276.5M1473.0,60V85M1626.5,1301.5V1289.0M1626.5,60V72.5M1780.0,1301.5V1276.5M1780.0,60V85M245,1301.5H257.5M1780,1301.5H1767.5M245,1206.0H270M1780,1206.0H1755M245,1110.5H257.5M1780,1110.5H1767.5M245,1015.0H270M1780,1015.0H1755M245,919.5H257.5M1780,919.5H1767.5M245,824.0H270M1780,824.0H1755M245,728.5H257.5M1780,728.5H1767.5M245,633.0H270M1780,633.0H1755M245,537.5H257.5M1780,537.5H1767.5M245,442.0H270M1780,442.0H1755M245,346.5H257.5M1780,346.5H1767.5M245,251.0H270M1780,251.0H1755M245,155.5H257.5M1780,155.5H1767.5M245,60.0H270M1780,60.0H1755" stroke="#000" stroke-width="10" fill="none"/>
<g font-size="52.5"><text x="245.0" y="1368" text-anchor="middle">0</text><text x="552.0" y="1368" text-anchor="middle">500</text><text x="859.0" y="1368" text-anchor="middle">1000</text><text x="1166.0" y="1368" text-anchor="middle">1500</text><text x="1473.0" y="1368" text-anchor="middle">2000</text><text x="1780.0" y="1368" text-anchor="middle">2500</text><text x="219" y="1220.7" text-anchor="end">1.6</text><text x="219" y="1029.7" text-anchor="end">1.8</text><text x="219" y="838.7" text-anchor="end">2.0</text><text x="219" y="647.7" text-anchor="end">2.2</text><text x="219" y="456.7" text-anchor="end">2.4</text><text x="219" y="265.7" text-anchor="end">2.6</text><text x="219" y="74.7" text-anchor="end">2.8</text></g>
<line x1="1066" y1="462" x2="1210" y2="462" stroke="#767676" stroke-width="10" stroke-linecap="round"/><text x="1228.5" y="485.3" font-size="65" letter-spacing="-0.38">TiO<tspan dy="17" font-size="45">2</tspan></text><line x1="1066" y1="556" x2="1210" y2="556" stroke="#FF3F3F" stroke-width="10" stroke-linecap="round"/><text x="1228.5" y="578.2" font-size="65" letter-spacing="-0.38">TiO<tspan dy="17" font-size="45">2</tspan><tspan dy="-17">/5 wt.% BC</tspan></text><line x1="1066" y1="649" x2="1210" y2="649" stroke="#006DE0" stroke-width="10" stroke-linecap="round"/><text x="1228.5" y="671.6" font-size="65" letter-spacing="-0.38">TiO<tspan dy="17" font-size="45">2</tspan><tspan dy="-17">/10 wt.% BC</tspan></text><line x1="1066" y1="742" x2="1210" y2="742" stroke="#00AB66" stroke-width="10" stroke-linecap="round"/><text x="1228.5" y="765.4" font-size="65" letter-spacing="-0.38">TiO<tspan dy="17" font-size="45">2</tspan><tspan dy="-17">/15 wt.% BC</tspan></text>
<g font-size="65" font-weight="bold">
<text x="732.7" y="1476" letter-spacing="-0.35">Wavelength,</text>
<text x="1128" y="1476" style="font-family:'Noto Serif CJK SC',serif;font-weight:900;font-size:61.5px" letter-spacing="-2">λ,</text>
<text x="1198" y="1476" letter-spacing="-3">nm</text>
<text transform="translate(74,935) rotate(-90)" letter-spacing="-0.33">Refractive index, n</text>
</g>
</svg>
</body></html>
